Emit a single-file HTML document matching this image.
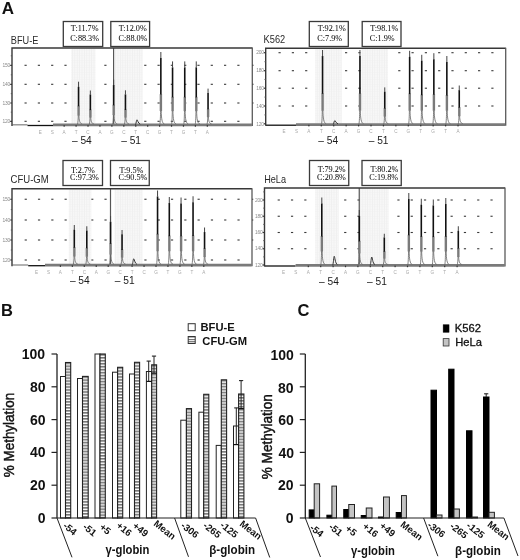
<!DOCTYPE html>
<html><head><meta charset="utf-8"><style>
html,body{margin:0;padding:0;background:#fff;width:520px;height:560px;overflow:hidden}
svg{display:block}
svg{will-change:transform}
</style></head><body>
<svg width="520" height="560" viewBox="0 0 520 560">
<defs>
<pattern id="hatch" patternUnits="userSpaceOnUse" x="0" y="0.3" width="10" height="3.05"><rect width="10" height="3.05" fill="#fff"/><rect y="0" width="10" height="1.25" fill="#555"/></pattern>
<pattern id="shade" patternUnits="userSpaceOnUse" x="0" y="0" width="2.4" height="2.4"><rect width="2.4" height="2.4" fill="#f7f7f7"/><rect width="0.7" height="2.4" fill="#eeeeee"/><rect width="2.4" height="0.5" fill="#f1f1f1"/></pattern>
<pattern id="hatch2" patternUnits="userSpaceOnUse" x="0" y="0.5" width="10" height="2.4"><rect width="10" height="2.4" fill="#fff"/><rect y="0" width="10" height="1" fill="#555"/></pattern>
</defs>
<rect width="520" height="560" fill="#fff"/>
<text id="m_A" x="1.65" y="13.70" font-size="17" font-weight="bold" fill="#111" text-anchor="start" font-family='"Liberation Sans", sans-serif' >A</text>
<rect x="24.50" y="64.75" width="2.20" height="1.10" fill="#3a3a3a" stroke="none" stroke-width="1" />
<rect x="37.80" y="64.75" width="2.20" height="1.10" fill="#3a3a3a" stroke="none" stroke-width="1" />
<rect x="51.10" y="64.75" width="2.20" height="1.10" fill="#3a3a3a" stroke="none" stroke-width="1" />
<rect x="64.40" y="64.75" width="2.20" height="1.10" fill="#3a3a3a" stroke="none" stroke-width="1" />
<rect x="77.70" y="64.75" width="2.20" height="1.10" fill="#3a3a3a" stroke="none" stroke-width="1" />
<rect x="91.00" y="64.75" width="2.20" height="1.10" fill="#3a3a3a" stroke="none" stroke-width="1" />
<rect x="104.30" y="64.75" width="2.20" height="1.10" fill="#3a3a3a" stroke="none" stroke-width="1" />
<rect x="117.60" y="64.75" width="2.20" height="1.10" fill="#3a3a3a" stroke="none" stroke-width="1" />
<rect x="130.90" y="64.75" width="2.20" height="1.10" fill="#3a3a3a" stroke="none" stroke-width="1" />
<rect x="144.20" y="64.75" width="2.20" height="1.10" fill="#3a3a3a" stroke="none" stroke-width="1" />
<rect x="157.50" y="64.75" width="2.20" height="1.10" fill="#3a3a3a" stroke="none" stroke-width="1" />
<rect x="170.80" y="64.75" width="2.20" height="1.10" fill="#3a3a3a" stroke="none" stroke-width="1" />
<rect x="184.10" y="64.75" width="2.20" height="1.10" fill="#3a3a3a" stroke="none" stroke-width="1" />
<rect x="197.40" y="64.75" width="2.20" height="1.10" fill="#3a3a3a" stroke="none" stroke-width="1" />
<rect x="210.70" y="64.75" width="2.20" height="1.10" fill="#3a3a3a" stroke="none" stroke-width="1" />
<rect x="224.00" y="64.75" width="2.20" height="1.10" fill="#3a3a3a" stroke="none" stroke-width="1" />
<rect x="237.30" y="64.75" width="2.20" height="1.10" fill="#3a3a3a" stroke="none" stroke-width="1" />
<rect x="24.50" y="83.75" width="2.20" height="1.10" fill="#3a3a3a" stroke="none" stroke-width="1" />
<rect x="37.80" y="83.75" width="2.20" height="1.10" fill="#3a3a3a" stroke="none" stroke-width="1" />
<rect x="51.10" y="83.75" width="2.20" height="1.10" fill="#3a3a3a" stroke="none" stroke-width="1" />
<rect x="64.40" y="83.75" width="2.20" height="1.10" fill="#3a3a3a" stroke="none" stroke-width="1" />
<rect x="77.70" y="83.75" width="2.20" height="1.10" fill="#3a3a3a" stroke="none" stroke-width="1" />
<rect x="91.00" y="83.75" width="2.20" height="1.10" fill="#3a3a3a" stroke="none" stroke-width="1" />
<rect x="104.30" y="83.75" width="2.20" height="1.10" fill="#3a3a3a" stroke="none" stroke-width="1" />
<rect x="117.60" y="83.75" width="2.20" height="1.10" fill="#3a3a3a" stroke="none" stroke-width="1" />
<rect x="130.90" y="83.75" width="2.20" height="1.10" fill="#3a3a3a" stroke="none" stroke-width="1" />
<rect x="144.20" y="83.75" width="2.20" height="1.10" fill="#3a3a3a" stroke="none" stroke-width="1" />
<rect x="157.50" y="83.75" width="2.20" height="1.10" fill="#3a3a3a" stroke="none" stroke-width="1" />
<rect x="170.80" y="83.75" width="2.20" height="1.10" fill="#3a3a3a" stroke="none" stroke-width="1" />
<rect x="184.10" y="83.75" width="2.20" height="1.10" fill="#3a3a3a" stroke="none" stroke-width="1" />
<rect x="197.40" y="83.75" width="2.20" height="1.10" fill="#3a3a3a" stroke="none" stroke-width="1" />
<rect x="210.70" y="83.75" width="2.20" height="1.10" fill="#3a3a3a" stroke="none" stroke-width="1" />
<rect x="224.00" y="83.75" width="2.20" height="1.10" fill="#3a3a3a" stroke="none" stroke-width="1" />
<rect x="237.30" y="83.75" width="2.20" height="1.10" fill="#3a3a3a" stroke="none" stroke-width="1" />
<rect x="24.50" y="102.45" width="2.20" height="1.10" fill="#3a3a3a" stroke="none" stroke-width="1" />
<rect x="37.80" y="102.45" width="2.20" height="1.10" fill="#3a3a3a" stroke="none" stroke-width="1" />
<rect x="51.10" y="102.45" width="2.20" height="1.10" fill="#3a3a3a" stroke="none" stroke-width="1" />
<rect x="64.40" y="102.45" width="2.20" height="1.10" fill="#3a3a3a" stroke="none" stroke-width="1" />
<rect x="77.70" y="102.45" width="2.20" height="1.10" fill="#3a3a3a" stroke="none" stroke-width="1" />
<rect x="91.00" y="102.45" width="2.20" height="1.10" fill="#3a3a3a" stroke="none" stroke-width="1" />
<rect x="104.30" y="102.45" width="2.20" height="1.10" fill="#3a3a3a" stroke="none" stroke-width="1" />
<rect x="117.60" y="102.45" width="2.20" height="1.10" fill="#3a3a3a" stroke="none" stroke-width="1" />
<rect x="130.90" y="102.45" width="2.20" height="1.10" fill="#3a3a3a" stroke="none" stroke-width="1" />
<rect x="144.20" y="102.45" width="2.20" height="1.10" fill="#3a3a3a" stroke="none" stroke-width="1" />
<rect x="157.50" y="102.45" width="2.20" height="1.10" fill="#3a3a3a" stroke="none" stroke-width="1" />
<rect x="170.80" y="102.45" width="2.20" height="1.10" fill="#3a3a3a" stroke="none" stroke-width="1" />
<rect x="184.10" y="102.45" width="2.20" height="1.10" fill="#3a3a3a" stroke="none" stroke-width="1" />
<rect x="197.40" y="102.45" width="2.20" height="1.10" fill="#3a3a3a" stroke="none" stroke-width="1" />
<rect x="210.70" y="102.45" width="2.20" height="1.10" fill="#3a3a3a" stroke="none" stroke-width="1" />
<rect x="224.00" y="102.45" width="2.20" height="1.10" fill="#3a3a3a" stroke="none" stroke-width="1" />
<rect x="237.30" y="102.45" width="2.20" height="1.10" fill="#3a3a3a" stroke="none" stroke-width="1" />
<rect x="24.50" y="120.75" width="2.20" height="1.10" fill="#3a3a3a" stroke="none" stroke-width="1" />
<rect x="37.80" y="120.75" width="2.20" height="1.10" fill="#3a3a3a" stroke="none" stroke-width="1" />
<rect x="51.10" y="120.75" width="2.20" height="1.10" fill="#3a3a3a" stroke="none" stroke-width="1" />
<rect x="64.40" y="120.75" width="2.20" height="1.10" fill="#3a3a3a" stroke="none" stroke-width="1" />
<rect x="77.70" y="120.75" width="2.20" height="1.10" fill="#3a3a3a" stroke="none" stroke-width="1" />
<rect x="91.00" y="120.75" width="2.20" height="1.10" fill="#3a3a3a" stroke="none" stroke-width="1" />
<rect x="104.30" y="120.75" width="2.20" height="1.10" fill="#3a3a3a" stroke="none" stroke-width="1" />
<rect x="117.60" y="120.75" width="2.20" height="1.10" fill="#3a3a3a" stroke="none" stroke-width="1" />
<rect x="130.90" y="120.75" width="2.20" height="1.10" fill="#3a3a3a" stroke="none" stroke-width="1" />
<rect x="144.20" y="120.75" width="2.20" height="1.10" fill="#3a3a3a" stroke="none" stroke-width="1" />
<rect x="157.50" y="120.75" width="2.20" height="1.10" fill="#3a3a3a" stroke="none" stroke-width="1" />
<rect x="170.80" y="120.75" width="2.20" height="1.10" fill="#3a3a3a" stroke="none" stroke-width="1" />
<rect x="184.10" y="120.75" width="2.20" height="1.10" fill="#3a3a3a" stroke="none" stroke-width="1" />
<rect x="197.40" y="120.75" width="2.20" height="1.10" fill="#3a3a3a" stroke="none" stroke-width="1" />
<rect x="210.70" y="120.75" width="2.20" height="1.10" fill="#3a3a3a" stroke="none" stroke-width="1" />
<rect x="224.00" y="120.75" width="2.20" height="1.10" fill="#3a3a3a" stroke="none" stroke-width="1" />
<rect x="237.30" y="120.75" width="2.20" height="1.10" fill="#3a3a3a" stroke="none" stroke-width="1" />
<rect x="71.20" y="48.70" width="24.30" height="75.00" fill="url(#shade)" stroke="none" stroke-width="1" />
<rect x="115.00" y="48.70" width="27.70" height="75.00" fill="url(#shade)" stroke="none" stroke-width="1" />
<line x1="113.60" y1="48.00" x2="113.60" y2="124.50" stroke="#555" stroke-width="1.2" />
<line x1="12.50" y1="124.80" x2="27.50" y2="124.80" stroke="#888" stroke-width="1.3" />
<line x1="27.50" y1="125.50" x2="53.00" y2="125.50" stroke="#111" stroke-width="1.3" />
<line x1="53.00" y1="124.90" x2="251.80" y2="124.90" stroke="#7a7a7a" stroke-width="2.6" />
<path d="M77.50,124.50 C78.00,122.50 78.20,118.85 78.30,115.08 M78.90,115.08 C79.10,120.73 79.70,123.30 82.10,124.00" fill="none" stroke="#6a6a6a" stroke-width="0.85"/>
<line x1="78.60" y1="115.58" x2="78.60" y2="105.74" stroke="#7a7a7a" stroke-width="2.4" />
<line x1="78.55" y1="106.24" x2="78.55" y2="86.84" stroke="#111" stroke-width="1.6" />
<line x1="78.55" y1="87.14" x2="78.55" y2="81.70" stroke="#444" stroke-width="1.0" />
<path d="M89.30,124.50 C89.80,122.50 90.00,120.01 90.10,117.02 M90.70,117.02 C90.90,121.51 91.50,123.30 93.90,124.00" fill="none" stroke="#6a6a6a" stroke-width="0.85"/>
<line x1="90.40" y1="117.52" x2="90.40" y2="109.59" stroke="#7a7a7a" stroke-width="2.4" />
<line x1="90.35" y1="110.09" x2="90.35" y2="94.58" stroke="#111" stroke-width="1.6" />
<line x1="90.35" y1="94.88" x2="90.35" y2="90.50" stroke="#444" stroke-width="1.0" />
<path d="M112.60,124.50 C113.10,122.50 113.30,118.57 113.40,114.62 M114.00,114.62 C114.20,120.55 114.80,123.30 117.20,124.00" fill="none" stroke="#6a6a6a" stroke-width="0.85"/>
<line x1="113.70" y1="115.12" x2="113.70" y2="104.82" stroke="#7a7a7a" stroke-width="2.4" />
<line x1="113.65" y1="105.32" x2="113.65" y2="84.99" stroke="#111" stroke-width="1.6" />
<line x1="113.65" y1="85.29" x2="113.65" y2="79.60" stroke="#444" stroke-width="1.0" />
<path d="M124.40,124.50 C124.90,122.50 125.10,119.99 125.20,116.98 M125.80,116.98 C126.00,121.49 126.60,123.30 129.00,124.00" fill="none" stroke="#6a6a6a" stroke-width="0.85"/>
<line x1="125.50" y1="117.48" x2="125.50" y2="109.51" stroke="#7a7a7a" stroke-width="2.4" />
<line x1="125.45" y1="110.01" x2="125.45" y2="94.40" stroke="#111" stroke-width="1.6" />
<line x1="125.45" y1="94.70" x2="125.45" y2="90.30" stroke="#444" stroke-width="1.0" />
<path d="M135.40,124.70 C136.20,123.50 136.40,119.80 137.00,119.80 C137.60,119.80 137.80,123.00 140.20,124.20" fill="none" stroke="#333" stroke-width="1.0"/>
<path d="M159.80,124.50 C160.30,122.50 160.50,116.10 160.60,110.50 M161.20,110.50 C161.40,118.90 162.00,123.30 164.40,124.00" fill="none" stroke="#6a6a6a" stroke-width="0.85"/>
<line x1="160.90" y1="111.00" x2="160.90" y2="94.12" stroke="#7a7a7a" stroke-width="2.4" />
<line x1="160.85" y1="94.62" x2="160.85" y2="58.00" stroke="#111" stroke-width="1.6" />
<line x1="160.85" y1="58.30" x2="160.85" y2="52.00" stroke="#444" stroke-width="1.0" />
<path d="M171.50,124.50 C172.00,122.50 172.20,116.17 172.30,110.62 M172.90,110.62 C173.10,118.95 173.70,123.30 176.10,124.00" fill="none" stroke="#6a6a6a" stroke-width="0.85"/>
<line x1="172.60" y1="111.12" x2="172.60" y2="96.84" stroke="#7a7a7a" stroke-width="2.4" />
<line x1="172.55" y1="97.34" x2="172.55" y2="67.40" stroke="#111" stroke-width="1.6" />
<line x1="172.55" y1="67.70" x2="172.55" y2="61.40" stroke="#444" stroke-width="1.0" />
<path d="M183.70,124.50 C184.20,122.50 184.40,116.17 184.50,110.62 M185.10,110.62 C185.30,118.95 185.90,123.30 188.30,124.00" fill="none" stroke="#6a6a6a" stroke-width="0.85"/>
<line x1="184.80" y1="111.12" x2="184.80" y2="96.84" stroke="#7a7a7a" stroke-width="2.4" />
<line x1="184.75" y1="97.34" x2="184.75" y2="67.40" stroke="#111" stroke-width="1.6" />
<line x1="184.75" y1="67.70" x2="184.75" y2="61.40" stroke="#444" stroke-width="1.0" />
<path d="M195.20,124.50 C195.70,122.50 195.90,116.17 196.00,110.62 M196.60,110.62 C196.80,118.95 197.40,123.30 199.80,124.00" fill="none" stroke="#6a6a6a" stroke-width="0.85"/>
<line x1="196.30" y1="111.12" x2="196.30" y2="96.84" stroke="#7a7a7a" stroke-width="2.4" />
<line x1="196.25" y1="97.34" x2="196.25" y2="67.40" stroke="#111" stroke-width="1.6" />
<line x1="196.25" y1="67.70" x2="196.25" y2="61.40" stroke="#444" stroke-width="1.0" />
<path d="M207.00,124.50 C207.50,122.50 207.70,119.76 207.80,116.60 M208.40,116.60 C208.60,121.34 209.20,123.30 211.60,124.00" fill="none" stroke="#6a6a6a" stroke-width="0.85"/>
<line x1="208.10" y1="117.10" x2="208.10" y2="108.76" stroke="#7a7a7a" stroke-width="2.4" />
<line x1="208.05" y1="109.26" x2="208.05" y2="92.91" stroke="#111" stroke-width="1.6" />
<line x1="208.05" y1="93.21" x2="208.05" y2="88.60" stroke="#444" stroke-width="1.0" />
<path d="M12.00,126.10 L12.00,48.00 L252.30,48.00" fill="none" stroke="#383838" stroke-width="1.4"/>
<line x1="252.30" y1="47.40" x2="252.30" y2="126.10" stroke="#5a5a5a" stroke-width="1.3" />
<rect x="63.30" y="21.50" width="39.40" height="25.00" fill="#fff" stroke="#3a3a3a" stroke-width="1.3" />
<text id="m_bfu_b0a" x="70.80" y="31.40" font-size="8.2" font-weight="normal" fill="#111" text-anchor="start" font-family='"Liberation Serif", serif' stroke="#111" stroke-width="0.05">T:11.7%</text>
<text id="m_bfu_b0b" x="70.15" y="41.19" font-size="8.2" font-weight="normal" fill="#111" text-anchor="start" font-family='"Liberation Serif", serif' stroke="#111" stroke-width="0.05">C:88.3%</text>
<rect x="110.80" y="21.50" width="38.80" height="25.00" fill="#fff" stroke="#3a3a3a" stroke-width="1.3" />
<text id="m_bfu_b1a" x="118.75" y="31.40" font-size="8.2" font-weight="normal" fill="#111" text-anchor="start" font-family='"Liberation Serif", serif' stroke="#111" stroke-width="0.05">T:12.0%</text>
<text id="m_bfu_b1b" x="118.56" y="41.19" font-size="8.2" font-weight="normal" fill="#111" text-anchor="start" font-family='"Liberation Serif", serif' stroke="#111" stroke-width="0.05">C:88.0%</text>
<text id="m_bfu_t" x="10.79" y="43.76" font-size="10.6" font-weight="normal" fill="#2a2a2a" text-anchor="start" font-family='"Liberation Sans", sans-serif' textLength="27.60" lengthAdjust="spacingAndGlyphs" >BFU-E</text>
<text x="40.30" y="133.50" font-size="4.6" font-weight="normal" fill="#a8a8a8" text-anchor="middle" font-family='"Liberation Sans", sans-serif' >E</text>
<text x="52.23" y="133.50" font-size="4.6" font-weight="normal" fill="#a8a8a8" text-anchor="middle" font-family='"Liberation Sans", sans-serif' >S</text>
<text x="64.16" y="133.50" font-size="4.6" font-weight="normal" fill="#a8a8a8" text-anchor="middle" font-family='"Liberation Sans", sans-serif' >A</text>
<rect x="63.56" y="125.10" width="1.20" height="1.60" fill="#333" stroke="none" stroke-width="1" />
<text x="76.09" y="133.50" font-size="4.6" font-weight="normal" fill="#a8a8a8" text-anchor="middle" font-family='"Liberation Sans", sans-serif' >T</text>
<rect x="75.49" y="125.10" width="1.20" height="1.60" fill="#333" stroke="none" stroke-width="1" />
<text x="88.02" y="133.50" font-size="4.6" font-weight="normal" fill="#a8a8a8" text-anchor="middle" font-family='"Liberation Sans", sans-serif' >C</text>
<rect x="87.42" y="125.10" width="1.20" height="1.60" fill="#333" stroke="none" stroke-width="1" />
<text x="99.95" y="133.50" font-size="4.6" font-weight="normal" fill="#a8a8a8" text-anchor="middle" font-family='"Liberation Sans", sans-serif' >A</text>
<rect x="99.35" y="125.10" width="1.20" height="1.60" fill="#333" stroke="none" stroke-width="1" />
<text x="111.88" y="133.50" font-size="4.6" font-weight="normal" fill="#a8a8a8" text-anchor="middle" font-family='"Liberation Sans", sans-serif' >G</text>
<rect x="111.28" y="125.10" width="1.20" height="1.60" fill="#333" stroke="none" stroke-width="1" />
<text x="123.81" y="133.50" font-size="4.6" font-weight="normal" fill="#a8a8a8" text-anchor="middle" font-family='"Liberation Sans", sans-serif' >C</text>
<rect x="123.21" y="125.10" width="1.20" height="1.60" fill="#333" stroke="none" stroke-width="1" />
<text x="135.74" y="133.50" font-size="4.6" font-weight="normal" fill="#a8a8a8" text-anchor="middle" font-family='"Liberation Sans", sans-serif' >T</text>
<rect x="135.14" y="125.10" width="1.20" height="1.60" fill="#333" stroke="none" stroke-width="1" />
<text x="147.67" y="133.50" font-size="4.6" font-weight="normal" fill="#a8a8a8" text-anchor="middle" font-family='"Liberation Sans", sans-serif' >C</text>
<rect x="147.07" y="125.10" width="1.20" height="1.60" fill="#333" stroke="none" stroke-width="1" />
<text x="159.60" y="133.50" font-size="4.6" font-weight="normal" fill="#a8a8a8" text-anchor="middle" font-family='"Liberation Sans", sans-serif' >G</text>
<rect x="159.00" y="125.10" width="1.20" height="1.60" fill="#333" stroke="none" stroke-width="1" />
<text x="171.53" y="133.50" font-size="4.6" font-weight="normal" fill="#a8a8a8" text-anchor="middle" font-family='"Liberation Sans", sans-serif' >T</text>
<rect x="170.93" y="125.10" width="1.20" height="1.60" fill="#333" stroke="none" stroke-width="1" />
<text x="183.46" y="133.50" font-size="4.6" font-weight="normal" fill="#a8a8a8" text-anchor="middle" font-family='"Liberation Sans", sans-serif' >G</text>
<rect x="182.86" y="125.10" width="1.20" height="1.60" fill="#333" stroke="none" stroke-width="1" />
<text x="195.39" y="133.50" font-size="4.6" font-weight="normal" fill="#a8a8a8" text-anchor="middle" font-family='"Liberation Sans", sans-serif' >T</text>
<rect x="194.79" y="125.10" width="1.20" height="1.60" fill="#333" stroke="none" stroke-width="1" />
<text x="207.32" y="133.50" font-size="4.6" font-weight="normal" fill="#a8a8a8" text-anchor="middle" font-family='"Liberation Sans", sans-serif' >A</text>
<rect x="206.72" y="125.10" width="1.20" height="1.60" fill="#333" stroke="none" stroke-width="1" />
<text id="m_bfu_l0" x="71.95" y="143.90" font-size="10.2" font-weight="normal" fill="#1a1a1a" text-anchor="start" font-family='"Liberation Sans", sans-serif' >&#8211; 54</text>
<text id="m_bfu_l1" x="121.20" y="143.90" font-size="10.2" font-weight="normal" fill="#1a1a1a" text-anchor="start" font-family='"Liberation Sans", sans-serif' >&#8211; 51</text>
<text x="10.00" y="67.00" font-size="4.9" font-weight="normal" fill="#8a8a8a" text-anchor="end" font-family='"Liberation Sans", sans-serif' letter-spacing="-0.2">150</text>
<line x1="10.20" y1="65.30" x2="12.00" y2="65.30" stroke="#333" stroke-width="1.2" />
<text x="10.00" y="86.00" font-size="4.9" font-weight="normal" fill="#8a8a8a" text-anchor="end" font-family='"Liberation Sans", sans-serif' letter-spacing="-0.2">140</text>
<line x1="10.20" y1="84.30" x2="12.00" y2="84.30" stroke="#333" stroke-width="1.2" />
<text x="10.00" y="104.70" font-size="4.9" font-weight="normal" fill="#8a8a8a" text-anchor="end" font-family='"Liberation Sans", sans-serif' letter-spacing="-0.2">130</text>
<line x1="10.20" y1="103.00" x2="12.00" y2="103.00" stroke="#333" stroke-width="1.2" />
<text x="10.00" y="123.00" font-size="4.9" font-weight="normal" fill="#8a8a8a" text-anchor="end" font-family='"Liberation Sans", sans-serif' letter-spacing="-0.2">120</text>
<line x1="10.20" y1="121.30" x2="12.00" y2="121.30" stroke="#333" stroke-width="1.2" />
<line x1="10.80" y1="74.80" x2="12.00" y2="74.80" stroke="#555" stroke-width="1.0" />
<line x1="10.80" y1="93.65" x2="12.00" y2="93.65" stroke="#555" stroke-width="1.0" />
<line x1="10.80" y1="112.15" x2="12.00" y2="112.15" stroke="#555" stroke-width="1.0" />
<line x1="10.80" y1="55.80" x2="12.00" y2="55.80" stroke="#555" stroke-width="1.0" />
<line x1="252.30" y1="65.30" x2="253.60" y2="65.30" stroke="#444" stroke-width="1.1" />
<line x1="252.30" y1="84.30" x2="253.60" y2="84.30" stroke="#444" stroke-width="1.1" />
<line x1="252.30" y1="103.00" x2="253.60" y2="103.00" stroke="#444" stroke-width="1.1" />
<rect x="278.50" y="52.15" width="2.20" height="1.10" fill="#3a3a3a" stroke="none" stroke-width="1" />
<rect x="291.80" y="52.15" width="2.20" height="1.10" fill="#3a3a3a" stroke="none" stroke-width="1" />
<rect x="305.10" y="52.15" width="2.20" height="1.10" fill="#3a3a3a" stroke="none" stroke-width="1" />
<rect x="318.40" y="52.15" width="2.20" height="1.10" fill="#3a3a3a" stroke="none" stroke-width="1" />
<rect x="331.70" y="52.15" width="2.20" height="1.10" fill="#3a3a3a" stroke="none" stroke-width="1" />
<rect x="345.00" y="52.15" width="2.20" height="1.10" fill="#3a3a3a" stroke="none" stroke-width="1" />
<rect x="358.30" y="52.15" width="2.20" height="1.10" fill="#3a3a3a" stroke="none" stroke-width="1" />
<rect x="371.60" y="52.15" width="2.20" height="1.10" fill="#3a3a3a" stroke="none" stroke-width="1" />
<rect x="384.90" y="52.15" width="2.20" height="1.10" fill="#3a3a3a" stroke="none" stroke-width="1" />
<rect x="398.20" y="52.15" width="2.20" height="1.10" fill="#3a3a3a" stroke="none" stroke-width="1" />
<rect x="411.50" y="52.15" width="2.20" height="1.10" fill="#3a3a3a" stroke="none" stroke-width="1" />
<rect x="424.80" y="52.15" width="2.20" height="1.10" fill="#3a3a3a" stroke="none" stroke-width="1" />
<rect x="438.10" y="52.15" width="2.20" height="1.10" fill="#3a3a3a" stroke="none" stroke-width="1" />
<rect x="451.40" y="52.15" width="2.20" height="1.10" fill="#3a3a3a" stroke="none" stroke-width="1" />
<rect x="464.70" y="52.15" width="2.20" height="1.10" fill="#3a3a3a" stroke="none" stroke-width="1" />
<rect x="478.00" y="52.15" width="2.20" height="1.10" fill="#3a3a3a" stroke="none" stroke-width="1" />
<rect x="491.30" y="52.15" width="2.20" height="1.10" fill="#3a3a3a" stroke="none" stroke-width="1" />
<rect x="278.50" y="70.15" width="2.20" height="1.10" fill="#3a3a3a" stroke="none" stroke-width="1" />
<rect x="291.80" y="70.15" width="2.20" height="1.10" fill="#3a3a3a" stroke="none" stroke-width="1" />
<rect x="305.10" y="70.15" width="2.20" height="1.10" fill="#3a3a3a" stroke="none" stroke-width="1" />
<rect x="318.40" y="70.15" width="2.20" height="1.10" fill="#3a3a3a" stroke="none" stroke-width="1" />
<rect x="331.70" y="70.15" width="2.20" height="1.10" fill="#3a3a3a" stroke="none" stroke-width="1" />
<rect x="345.00" y="70.15" width="2.20" height="1.10" fill="#3a3a3a" stroke="none" stroke-width="1" />
<rect x="358.30" y="70.15" width="2.20" height="1.10" fill="#3a3a3a" stroke="none" stroke-width="1" />
<rect x="371.60" y="70.15" width="2.20" height="1.10" fill="#3a3a3a" stroke="none" stroke-width="1" />
<rect x="384.90" y="70.15" width="2.20" height="1.10" fill="#3a3a3a" stroke="none" stroke-width="1" />
<rect x="398.20" y="70.15" width="2.20" height="1.10" fill="#3a3a3a" stroke="none" stroke-width="1" />
<rect x="411.50" y="70.15" width="2.20" height="1.10" fill="#3a3a3a" stroke="none" stroke-width="1" />
<rect x="424.80" y="70.15" width="2.20" height="1.10" fill="#3a3a3a" stroke="none" stroke-width="1" />
<rect x="438.10" y="70.15" width="2.20" height="1.10" fill="#3a3a3a" stroke="none" stroke-width="1" />
<rect x="451.40" y="70.15" width="2.20" height="1.10" fill="#3a3a3a" stroke="none" stroke-width="1" />
<rect x="464.70" y="70.15" width="2.20" height="1.10" fill="#3a3a3a" stroke="none" stroke-width="1" />
<rect x="478.00" y="70.15" width="2.20" height="1.10" fill="#3a3a3a" stroke="none" stroke-width="1" />
<rect x="491.30" y="70.15" width="2.20" height="1.10" fill="#3a3a3a" stroke="none" stroke-width="1" />
<rect x="278.50" y="87.65" width="2.20" height="1.10" fill="#3a3a3a" stroke="none" stroke-width="1" />
<rect x="291.80" y="87.65" width="2.20" height="1.10" fill="#3a3a3a" stroke="none" stroke-width="1" />
<rect x="305.10" y="87.65" width="2.20" height="1.10" fill="#3a3a3a" stroke="none" stroke-width="1" />
<rect x="318.40" y="87.65" width="2.20" height="1.10" fill="#3a3a3a" stroke="none" stroke-width="1" />
<rect x="331.70" y="87.65" width="2.20" height="1.10" fill="#3a3a3a" stroke="none" stroke-width="1" />
<rect x="345.00" y="87.65" width="2.20" height="1.10" fill="#3a3a3a" stroke="none" stroke-width="1" />
<rect x="358.30" y="87.65" width="2.20" height="1.10" fill="#3a3a3a" stroke="none" stroke-width="1" />
<rect x="371.60" y="87.65" width="2.20" height="1.10" fill="#3a3a3a" stroke="none" stroke-width="1" />
<rect x="384.90" y="87.65" width="2.20" height="1.10" fill="#3a3a3a" stroke="none" stroke-width="1" />
<rect x="398.20" y="87.65" width="2.20" height="1.10" fill="#3a3a3a" stroke="none" stroke-width="1" />
<rect x="411.50" y="87.65" width="2.20" height="1.10" fill="#3a3a3a" stroke="none" stroke-width="1" />
<rect x="424.80" y="87.65" width="2.20" height="1.10" fill="#3a3a3a" stroke="none" stroke-width="1" />
<rect x="438.10" y="87.65" width="2.20" height="1.10" fill="#3a3a3a" stroke="none" stroke-width="1" />
<rect x="451.40" y="87.65" width="2.20" height="1.10" fill="#3a3a3a" stroke="none" stroke-width="1" />
<rect x="464.70" y="87.65" width="2.20" height="1.10" fill="#3a3a3a" stroke="none" stroke-width="1" />
<rect x="478.00" y="87.65" width="2.20" height="1.10" fill="#3a3a3a" stroke="none" stroke-width="1" />
<rect x="491.30" y="87.65" width="2.20" height="1.10" fill="#3a3a3a" stroke="none" stroke-width="1" />
<rect x="278.50" y="105.45" width="2.20" height="1.10" fill="#3a3a3a" stroke="none" stroke-width="1" />
<rect x="291.80" y="105.45" width="2.20" height="1.10" fill="#3a3a3a" stroke="none" stroke-width="1" />
<rect x="305.10" y="105.45" width="2.20" height="1.10" fill="#3a3a3a" stroke="none" stroke-width="1" />
<rect x="318.40" y="105.45" width="2.20" height="1.10" fill="#3a3a3a" stroke="none" stroke-width="1" />
<rect x="331.70" y="105.45" width="2.20" height="1.10" fill="#3a3a3a" stroke="none" stroke-width="1" />
<rect x="345.00" y="105.45" width="2.20" height="1.10" fill="#3a3a3a" stroke="none" stroke-width="1" />
<rect x="358.30" y="105.45" width="2.20" height="1.10" fill="#3a3a3a" stroke="none" stroke-width="1" />
<rect x="371.60" y="105.45" width="2.20" height="1.10" fill="#3a3a3a" stroke="none" stroke-width="1" />
<rect x="384.90" y="105.45" width="2.20" height="1.10" fill="#3a3a3a" stroke="none" stroke-width="1" />
<rect x="398.20" y="105.45" width="2.20" height="1.10" fill="#3a3a3a" stroke="none" stroke-width="1" />
<rect x="411.50" y="105.45" width="2.20" height="1.10" fill="#3a3a3a" stroke="none" stroke-width="1" />
<rect x="424.80" y="105.45" width="2.20" height="1.10" fill="#3a3a3a" stroke="none" stroke-width="1" />
<rect x="438.10" y="105.45" width="2.20" height="1.10" fill="#3a3a3a" stroke="none" stroke-width="1" />
<rect x="451.40" y="105.45" width="2.20" height="1.10" fill="#3a3a3a" stroke="none" stroke-width="1" />
<rect x="464.70" y="105.45" width="2.20" height="1.10" fill="#3a3a3a" stroke="none" stroke-width="1" />
<rect x="478.00" y="105.45" width="2.20" height="1.10" fill="#3a3a3a" stroke="none" stroke-width="1" />
<rect x="491.30" y="105.45" width="2.20" height="1.10" fill="#3a3a3a" stroke="none" stroke-width="1" />
<rect x="315.00" y="49.00" width="26.80" height="74.40" fill="url(#shade)" stroke="none" stroke-width="1" />
<rect x="361.50" y="49.00" width="26.50" height="74.40" fill="url(#shade)" stroke="none" stroke-width="1" />
<line x1="265.70" y1="125.20" x2="296.00" y2="125.20" stroke="#111" stroke-width="1.3" />
<line x1="296.00" y1="124.60" x2="505.20" y2="124.60" stroke="#7a7a7a" stroke-width="2.6" />
<path d="M321.50,124.20 C322.00,122.20 322.20,115.80 322.30,110.20 M322.90,110.20 C323.10,118.60 323.70,123.00 326.10,123.70" fill="none" stroke="#6a6a6a" stroke-width="0.85"/>
<line x1="322.60" y1="110.70" x2="322.60" y2="93.34" stroke="#7a7a7a" stroke-width="2.4" />
<line x1="322.55" y1="93.84" x2="322.55" y2="56.00" stroke="#111" stroke-width="1.6" />
<line x1="322.55" y1="56.30" x2="322.55" y2="50.00" stroke="#444" stroke-width="1.0" />
<path d="M333.20,124.40 C334.00,123.20 334.20,120.60 334.80,120.60 C335.40,120.60 335.60,122.70 338.00,123.90" fill="none" stroke="#333" stroke-width="1.0"/>
<path d="M358.90,124.20 C359.40,122.20 359.60,115.80 359.70,110.20 M360.30,110.20 C360.50,118.60 361.10,123.00 363.50,123.70" fill="none" stroke="#6a6a6a" stroke-width="0.85"/>
<line x1="360.00" y1="110.70" x2="360.00" y2="93.34" stroke="#7a7a7a" stroke-width="2.4" />
<line x1="359.95" y1="93.84" x2="359.95" y2="56.00" stroke="#111" stroke-width="1.6" />
<line x1="359.95" y1="56.30" x2="359.95" y2="50.00" stroke="#444" stroke-width="1.0" />
<path d="M383.70,124.20 C384.20,122.20 384.40,119.34 384.50,116.10 M385.10,116.10 C385.30,120.96 385.90,123.00 388.30,123.70" fill="none" stroke="#6a6a6a" stroke-width="0.85"/>
<line x1="384.80" y1="116.60" x2="384.80" y2="108.07" stroke="#7a7a7a" stroke-width="2.4" />
<line x1="384.75" y1="108.57" x2="384.75" y2="91.82" stroke="#111" stroke-width="1.6" />
<line x1="384.75" y1="92.12" x2="384.75" y2="87.40" stroke="#444" stroke-width="1.0" />
<path d="M408.60,124.20 C409.10,122.20 409.30,115.80 409.40,110.20 M410.00,110.20 C410.20,118.60 410.80,123.00 413.20,123.70" fill="none" stroke="#6a6a6a" stroke-width="0.85"/>
<line x1="409.70" y1="110.70" x2="409.70" y2="93.57" stroke="#7a7a7a" stroke-width="2.4" />
<line x1="409.65" y1="94.07" x2="409.65" y2="56.80" stroke="#111" stroke-width="1.6" />
<line x1="409.65" y1="57.10" x2="409.65" y2="50.80" stroke="#444" stroke-width="1.0" />
<path d="M420.70,124.20 C421.20,122.20 421.40,115.80 421.50,110.20 M422.10,110.20 C422.30,118.60 422.90,123.00 425.30,123.70" fill="none" stroke="#6a6a6a" stroke-width="0.85"/>
<line x1="421.80" y1="110.70" x2="421.80" y2="94.69" stroke="#7a7a7a" stroke-width="2.4" />
<line x1="421.75" y1="95.19" x2="421.75" y2="60.80" stroke="#111" stroke-width="1.6" />
<line x1="421.75" y1="61.10" x2="421.75" y2="54.80" stroke="#444" stroke-width="1.0" />
<path d="M432.80,124.20 C433.30,122.20 433.50,115.80 433.60,110.20 M434.20,110.20 C434.40,118.60 435.00,123.00 437.40,123.70" fill="none" stroke="#6a6a6a" stroke-width="0.85"/>
<line x1="433.90" y1="110.70" x2="433.90" y2="94.24" stroke="#7a7a7a" stroke-width="2.4" />
<line x1="433.85" y1="94.74" x2="433.85" y2="59.20" stroke="#111" stroke-width="1.6" />
<line x1="433.85" y1="59.50" x2="433.85" y2="53.20" stroke="#444" stroke-width="1.0" />
<path d="M445.80,124.20 C446.30,122.20 446.50,115.80 446.60,110.20 M447.20,110.20 C447.40,118.60 448.00,123.00 450.40,123.70" fill="none" stroke="#6a6a6a" stroke-width="0.85"/>
<line x1="446.90" y1="110.70" x2="446.90" y2="95.02" stroke="#7a7a7a" stroke-width="2.4" />
<line x1="446.85" y1="95.52" x2="446.85" y2="62.00" stroke="#111" stroke-width="1.6" />
<line x1="446.85" y1="62.30" x2="446.85" y2="56.00" stroke="#444" stroke-width="1.0" />
<path d="M458.20,124.20 C458.70,122.20 458.90,119.09 459.00,115.69 M459.60,115.69 C459.80,120.79 460.40,123.00 462.80,123.70" fill="none" stroke="#6a6a6a" stroke-width="0.85"/>
<line x1="459.30" y1="116.19" x2="459.30" y2="107.23" stroke="#7a7a7a" stroke-width="2.4" />
<line x1="459.25" y1="107.73" x2="459.25" y2="90.14" stroke="#111" stroke-width="1.6" />
<line x1="459.25" y1="90.44" x2="459.25" y2="85.50" stroke="#444" stroke-width="1.0" />
<path d="M265.70,125.80 L265.70,48.30 L505.70,48.30" fill="none" stroke="#383838" stroke-width="1.4"/>
<line x1="505.70" y1="47.70" x2="505.70" y2="125.80" stroke="#5a5a5a" stroke-width="1.3" />
<rect x="309.30" y="21.50" width="39.00" height="25.00" fill="#fff" stroke="#3a3a3a" stroke-width="1.3" />
<text id="m_k562_b0a" x="317.69" y="31.40" font-size="8.2" font-weight="normal" fill="#111" text-anchor="start" font-family='"Liberation Serif", serif' stroke="#111" stroke-width="0.05">T:92.1%</text>
<text id="m_k562_b0b" x="317.30" y="41.19" font-size="8.2" font-weight="normal" fill="#111" text-anchor="start" font-family='"Liberation Serif", serif' stroke="#111" stroke-width="0.05">C:7.9%</text>
<rect x="362.20" y="21.50" width="38.80" height="25.00" fill="#fff" stroke="#3a3a3a" stroke-width="1.3" />
<text id="m_k562_b1a" x="370.19" y="31.40" font-size="8.2" font-weight="normal" fill="#111" text-anchor="start" font-family='"Liberation Serif", serif' stroke="#111" stroke-width="0.05">T:98.1%</text>
<text id="m_k562_b1b" x="369.84" y="41.19" font-size="8.2" font-weight="normal" fill="#111" text-anchor="start" font-family='"Liberation Serif", serif' stroke="#111" stroke-width="0.05">C:1.9%</text>
<text id="m_k562_t" x="263.60" y="43.10" font-size="10.6" font-weight="normal" fill="#2a2a2a" text-anchor="start" font-family='"Liberation Sans", sans-serif' textLength="21.60" lengthAdjust="spacingAndGlyphs" >K562</text>
<text x="284.00" y="133.20" font-size="4.6" font-weight="normal" fill="#a8a8a8" text-anchor="middle" font-family='"Liberation Sans", sans-serif' >E</text>
<text x="296.43" y="133.20" font-size="4.6" font-weight="normal" fill="#a8a8a8" text-anchor="middle" font-family='"Liberation Sans", sans-serif' >S</text>
<text x="308.86" y="133.20" font-size="4.6" font-weight="normal" fill="#a8a8a8" text-anchor="middle" font-family='"Liberation Sans", sans-serif' >A</text>
<rect x="308.26" y="124.80" width="1.20" height="1.60" fill="#333" stroke="none" stroke-width="1" />
<text x="321.29" y="133.20" font-size="4.6" font-weight="normal" fill="#a8a8a8" text-anchor="middle" font-family='"Liberation Sans", sans-serif' >T</text>
<rect x="320.69" y="124.80" width="1.20" height="1.60" fill="#333" stroke="none" stroke-width="1" />
<text x="333.72" y="133.20" font-size="4.6" font-weight="normal" fill="#a8a8a8" text-anchor="middle" font-family='"Liberation Sans", sans-serif' >C</text>
<rect x="333.12" y="124.80" width="1.20" height="1.60" fill="#333" stroke="none" stroke-width="1" />
<text x="346.15" y="133.20" font-size="4.6" font-weight="normal" fill="#a8a8a8" text-anchor="middle" font-family='"Liberation Sans", sans-serif' >A</text>
<rect x="345.55" y="124.80" width="1.20" height="1.60" fill="#333" stroke="none" stroke-width="1" />
<text x="358.58" y="133.20" font-size="4.6" font-weight="normal" fill="#a8a8a8" text-anchor="middle" font-family='"Liberation Sans", sans-serif' >G</text>
<rect x="357.98" y="124.80" width="1.20" height="1.60" fill="#333" stroke="none" stroke-width="1" />
<text x="371.01" y="133.20" font-size="4.6" font-weight="normal" fill="#a8a8a8" text-anchor="middle" font-family='"Liberation Sans", sans-serif' >C</text>
<rect x="370.41" y="124.80" width="1.20" height="1.60" fill="#333" stroke="none" stroke-width="1" />
<text x="383.44" y="133.20" font-size="4.6" font-weight="normal" fill="#a8a8a8" text-anchor="middle" font-family='"Liberation Sans", sans-serif' >T</text>
<rect x="382.84" y="124.80" width="1.20" height="1.60" fill="#333" stroke="none" stroke-width="1" />
<text x="395.87" y="133.20" font-size="4.6" font-weight="normal" fill="#a8a8a8" text-anchor="middle" font-family='"Liberation Sans", sans-serif' >C</text>
<rect x="395.27" y="124.80" width="1.20" height="1.60" fill="#333" stroke="none" stroke-width="1" />
<text x="408.30" y="133.20" font-size="4.6" font-weight="normal" fill="#a8a8a8" text-anchor="middle" font-family='"Liberation Sans", sans-serif' >G</text>
<rect x="407.70" y="124.80" width="1.20" height="1.60" fill="#333" stroke="none" stroke-width="1" />
<text x="420.73" y="133.20" font-size="4.6" font-weight="normal" fill="#a8a8a8" text-anchor="middle" font-family='"Liberation Sans", sans-serif' >T</text>
<rect x="420.13" y="124.80" width="1.20" height="1.60" fill="#333" stroke="none" stroke-width="1" />
<text x="433.16" y="133.20" font-size="4.6" font-weight="normal" fill="#a8a8a8" text-anchor="middle" font-family='"Liberation Sans", sans-serif' >G</text>
<rect x="432.56" y="124.80" width="1.20" height="1.60" fill="#333" stroke="none" stroke-width="1" />
<text x="445.59" y="133.20" font-size="4.6" font-weight="normal" fill="#a8a8a8" text-anchor="middle" font-family='"Liberation Sans", sans-serif' >T</text>
<rect x="444.99" y="124.80" width="1.20" height="1.60" fill="#333" stroke="none" stroke-width="1" />
<text x="458.02" y="133.20" font-size="4.6" font-weight="normal" fill="#a8a8a8" text-anchor="middle" font-family='"Liberation Sans", sans-serif' >A</text>
<rect x="457.42" y="124.80" width="1.20" height="1.60" fill="#333" stroke="none" stroke-width="1" />
<text id="m_k562_l0" x="318.29" y="143.90" font-size="10.2" font-weight="normal" fill="#1a1a1a" text-anchor="start" font-family='"Liberation Sans", sans-serif' >&#8211; 54</text>
<text id="m_k562_l1" x="368.70" y="143.90" font-size="10.2" font-weight="normal" fill="#1a1a1a" text-anchor="start" font-family='"Liberation Sans", sans-serif' >&#8211; 51</text>
<text x="263.70" y="54.40" font-size="4.9" font-weight="normal" fill="#8a8a8a" text-anchor="end" font-family='"Liberation Sans", sans-serif' letter-spacing="-0.2">200</text>
<line x1="263.90" y1="52.70" x2="265.70" y2="52.70" stroke="#333" stroke-width="1.2" />
<text x="263.70" y="72.40" font-size="4.9" font-weight="normal" fill="#8a8a8a" text-anchor="end" font-family='"Liberation Sans", sans-serif' letter-spacing="-0.2">180</text>
<line x1="263.90" y1="70.70" x2="265.70" y2="70.70" stroke="#333" stroke-width="1.2" />
<text x="263.70" y="89.90" font-size="4.9" font-weight="normal" fill="#8a8a8a" text-anchor="end" font-family='"Liberation Sans", sans-serif' letter-spacing="-0.2">160</text>
<line x1="263.90" y1="88.20" x2="265.70" y2="88.20" stroke="#333" stroke-width="1.2" />
<text x="263.70" y="107.70" font-size="4.9" font-weight="normal" fill="#8a8a8a" text-anchor="end" font-family='"Liberation Sans", sans-serif' letter-spacing="-0.2">140</text>
<line x1="263.90" y1="106.00" x2="265.70" y2="106.00" stroke="#333" stroke-width="1.2" />
<text x="263.70" y="125.50" font-size="4.9" font-weight="normal" fill="#8a8a8a" text-anchor="end" font-family='"Liberation Sans", sans-serif' letter-spacing="-0.2">120</text>
<line x1="263.90" y1="123.80" x2="265.70" y2="123.80" stroke="#333" stroke-width="1.2" />
<line x1="264.50" y1="61.70" x2="265.70" y2="61.70" stroke="#555" stroke-width="1.0" />
<line x1="264.50" y1="79.45" x2="265.70" y2="79.45" stroke="#555" stroke-width="1.0" />
<line x1="264.50" y1="97.10" x2="265.70" y2="97.10" stroke="#555" stroke-width="1.0" />
<line x1="264.50" y1="114.90" x2="265.70" y2="114.90" stroke="#555" stroke-width="1.0" />
<rect x="24.65" y="198.70" width="2.20" height="1.10" fill="#3a3a3a" stroke="none" stroke-width="1" />
<rect x="37.95" y="198.70" width="2.20" height="1.10" fill="#3a3a3a" stroke="none" stroke-width="1" />
<rect x="51.25" y="198.70" width="2.20" height="1.10" fill="#3a3a3a" stroke="none" stroke-width="1" />
<rect x="64.55" y="198.70" width="2.20" height="1.10" fill="#3a3a3a" stroke="none" stroke-width="1" />
<rect x="77.85" y="198.70" width="2.20" height="1.10" fill="#3a3a3a" stroke="none" stroke-width="1" />
<rect x="91.15" y="198.70" width="2.20" height="1.10" fill="#3a3a3a" stroke="none" stroke-width="1" />
<rect x="104.45" y="198.70" width="2.20" height="1.10" fill="#3a3a3a" stroke="none" stroke-width="1" />
<rect x="117.75" y="198.70" width="2.20" height="1.10" fill="#3a3a3a" stroke="none" stroke-width="1" />
<rect x="131.05" y="198.70" width="2.20" height="1.10" fill="#3a3a3a" stroke="none" stroke-width="1" />
<rect x="144.35" y="198.70" width="2.20" height="1.10" fill="#3a3a3a" stroke="none" stroke-width="1" />
<rect x="157.65" y="198.70" width="2.20" height="1.10" fill="#3a3a3a" stroke="none" stroke-width="1" />
<rect x="170.95" y="198.70" width="2.20" height="1.10" fill="#3a3a3a" stroke="none" stroke-width="1" />
<rect x="184.25" y="198.70" width="2.20" height="1.10" fill="#3a3a3a" stroke="none" stroke-width="1" />
<rect x="197.55" y="198.70" width="2.20" height="1.10" fill="#3a3a3a" stroke="none" stroke-width="1" />
<rect x="210.85" y="198.70" width="2.20" height="1.10" fill="#3a3a3a" stroke="none" stroke-width="1" />
<rect x="224.15" y="198.70" width="2.20" height="1.10" fill="#3a3a3a" stroke="none" stroke-width="1" />
<rect x="237.45" y="198.70" width="2.20" height="1.10" fill="#3a3a3a" stroke="none" stroke-width="1" />
<rect x="24.65" y="219.45" width="2.20" height="1.10" fill="#3a3a3a" stroke="none" stroke-width="1" />
<rect x="37.95" y="219.45" width="2.20" height="1.10" fill="#3a3a3a" stroke="none" stroke-width="1" />
<rect x="51.25" y="219.45" width="2.20" height="1.10" fill="#3a3a3a" stroke="none" stroke-width="1" />
<rect x="64.55" y="219.45" width="2.20" height="1.10" fill="#3a3a3a" stroke="none" stroke-width="1" />
<rect x="77.85" y="219.45" width="2.20" height="1.10" fill="#3a3a3a" stroke="none" stroke-width="1" />
<rect x="91.15" y="219.45" width="2.20" height="1.10" fill="#3a3a3a" stroke="none" stroke-width="1" />
<rect x="104.45" y="219.45" width="2.20" height="1.10" fill="#3a3a3a" stroke="none" stroke-width="1" />
<rect x="117.75" y="219.45" width="2.20" height="1.10" fill="#3a3a3a" stroke="none" stroke-width="1" />
<rect x="131.05" y="219.45" width="2.20" height="1.10" fill="#3a3a3a" stroke="none" stroke-width="1" />
<rect x="144.35" y="219.45" width="2.20" height="1.10" fill="#3a3a3a" stroke="none" stroke-width="1" />
<rect x="157.65" y="219.45" width="2.20" height="1.10" fill="#3a3a3a" stroke="none" stroke-width="1" />
<rect x="170.95" y="219.45" width="2.20" height="1.10" fill="#3a3a3a" stroke="none" stroke-width="1" />
<rect x="184.25" y="219.45" width="2.20" height="1.10" fill="#3a3a3a" stroke="none" stroke-width="1" />
<rect x="197.55" y="219.45" width="2.20" height="1.10" fill="#3a3a3a" stroke="none" stroke-width="1" />
<rect x="210.85" y="219.45" width="2.20" height="1.10" fill="#3a3a3a" stroke="none" stroke-width="1" />
<rect x="224.15" y="219.45" width="2.20" height="1.10" fill="#3a3a3a" stroke="none" stroke-width="1" />
<rect x="237.45" y="219.45" width="2.20" height="1.10" fill="#3a3a3a" stroke="none" stroke-width="1" />
<rect x="24.65" y="239.45" width="2.20" height="1.10" fill="#3a3a3a" stroke="none" stroke-width="1" />
<rect x="37.95" y="239.45" width="2.20" height="1.10" fill="#3a3a3a" stroke="none" stroke-width="1" />
<rect x="51.25" y="239.45" width="2.20" height="1.10" fill="#3a3a3a" stroke="none" stroke-width="1" />
<rect x="64.55" y="239.45" width="2.20" height="1.10" fill="#3a3a3a" stroke="none" stroke-width="1" />
<rect x="77.85" y="239.45" width="2.20" height="1.10" fill="#3a3a3a" stroke="none" stroke-width="1" />
<rect x="91.15" y="239.45" width="2.20" height="1.10" fill="#3a3a3a" stroke="none" stroke-width="1" />
<rect x="104.45" y="239.45" width="2.20" height="1.10" fill="#3a3a3a" stroke="none" stroke-width="1" />
<rect x="117.75" y="239.45" width="2.20" height="1.10" fill="#3a3a3a" stroke="none" stroke-width="1" />
<rect x="131.05" y="239.45" width="2.20" height="1.10" fill="#3a3a3a" stroke="none" stroke-width="1" />
<rect x="144.35" y="239.45" width="2.20" height="1.10" fill="#3a3a3a" stroke="none" stroke-width="1" />
<rect x="157.65" y="239.45" width="2.20" height="1.10" fill="#3a3a3a" stroke="none" stroke-width="1" />
<rect x="170.95" y="239.45" width="2.20" height="1.10" fill="#3a3a3a" stroke="none" stroke-width="1" />
<rect x="184.25" y="239.45" width="2.20" height="1.10" fill="#3a3a3a" stroke="none" stroke-width="1" />
<rect x="197.55" y="239.45" width="2.20" height="1.10" fill="#3a3a3a" stroke="none" stroke-width="1" />
<rect x="210.85" y="239.45" width="2.20" height="1.10" fill="#3a3a3a" stroke="none" stroke-width="1" />
<rect x="224.15" y="239.45" width="2.20" height="1.10" fill="#3a3a3a" stroke="none" stroke-width="1" />
<rect x="237.45" y="239.45" width="2.20" height="1.10" fill="#3a3a3a" stroke="none" stroke-width="1" />
<rect x="24.65" y="259.45" width="2.20" height="1.10" fill="#3a3a3a" stroke="none" stroke-width="1" />
<rect x="37.95" y="259.45" width="2.20" height="1.10" fill="#3a3a3a" stroke="none" stroke-width="1" />
<rect x="51.25" y="259.45" width="2.20" height="1.10" fill="#3a3a3a" stroke="none" stroke-width="1" />
<rect x="64.55" y="259.45" width="2.20" height="1.10" fill="#3a3a3a" stroke="none" stroke-width="1" />
<rect x="77.85" y="259.45" width="2.20" height="1.10" fill="#3a3a3a" stroke="none" stroke-width="1" />
<rect x="91.15" y="259.45" width="2.20" height="1.10" fill="#3a3a3a" stroke="none" stroke-width="1" />
<rect x="104.45" y="259.45" width="2.20" height="1.10" fill="#3a3a3a" stroke="none" stroke-width="1" />
<rect x="117.75" y="259.45" width="2.20" height="1.10" fill="#3a3a3a" stroke="none" stroke-width="1" />
<rect x="131.05" y="259.45" width="2.20" height="1.10" fill="#3a3a3a" stroke="none" stroke-width="1" />
<rect x="144.35" y="259.45" width="2.20" height="1.10" fill="#3a3a3a" stroke="none" stroke-width="1" />
<rect x="157.65" y="259.45" width="2.20" height="1.10" fill="#3a3a3a" stroke="none" stroke-width="1" />
<rect x="170.95" y="259.45" width="2.20" height="1.10" fill="#3a3a3a" stroke="none" stroke-width="1" />
<rect x="184.25" y="259.45" width="2.20" height="1.10" fill="#3a3a3a" stroke="none" stroke-width="1" />
<rect x="197.55" y="259.45" width="2.20" height="1.10" fill="#3a3a3a" stroke="none" stroke-width="1" />
<rect x="210.85" y="259.45" width="2.20" height="1.10" fill="#3a3a3a" stroke="none" stroke-width="1" />
<rect x="224.15" y="259.45" width="2.20" height="1.10" fill="#3a3a3a" stroke="none" stroke-width="1" />
<rect x="237.45" y="259.45" width="2.20" height="1.10" fill="#3a3a3a" stroke="none" stroke-width="1" />
<rect x="68.75" y="189.45" width="22.50" height="74.45" fill="url(#shade)" stroke="none" stroke-width="1" />
<rect x="114.50" y="189.45" width="28.00" height="74.45" fill="url(#shade)" stroke="none" stroke-width="1" />
<line x1="110.50" y1="188.75" x2="110.50" y2="264.70" stroke="#555" stroke-width="1.2" />
<line x1="12.50" y1="265.00" x2="28.20" y2="265.00" stroke="#888" stroke-width="1.3" />
<line x1="28.20" y1="265.70" x2="45.00" y2="265.70" stroke="#111" stroke-width="1.3" />
<line x1="45.00" y1="265.10" x2="251.50" y2="265.10" stroke="#7a7a7a" stroke-width="2.6" />
<path d="M73.25,264.70 C73.75,262.70 73.95,259.46 74.05,255.97 M74.65,255.97 C74.85,261.21 75.45,263.50 77.85,264.20" fill="none" stroke="#6a6a6a" stroke-width="0.85"/>
<line x1="74.35" y1="256.47" x2="74.35" y2="247.30" stroke="#7a7a7a" stroke-width="2.4" />
<line x1="74.30" y1="247.80" x2="74.30" y2="229.76" stroke="#111" stroke-width="1.6" />
<line x1="74.30" y1="230.06" x2="74.30" y2="225.00" stroke="#444" stroke-width="1.0" />
<path d="M85.75,264.70 C86.25,262.70 86.45,259.62 86.55,256.24 M87.15,256.24 C87.35,261.32 87.95,263.50 90.35,264.20" fill="none" stroke="#6a6a6a" stroke-width="0.85"/>
<line x1="86.85" y1="256.74" x2="86.85" y2="247.84" stroke="#7a7a7a" stroke-width="2.4" />
<line x1="86.80" y1="248.34" x2="86.80" y2="230.86" stroke="#111" stroke-width="1.6" />
<line x1="86.80" y1="231.16" x2="86.80" y2="226.25" stroke="#444" stroke-width="1.0" />
<path d="M109.50,264.70 C110.00,262.70 110.20,258.27 110.30,253.99 M110.90,253.99 C111.10,260.41 111.70,263.50 114.10,264.20" fill="none" stroke="#6a6a6a" stroke-width="0.85"/>
<line x1="110.60" y1="254.49" x2="110.60" y2="243.35" stroke="#7a7a7a" stroke-width="2.4" />
<line x1="110.55" y1="243.85" x2="110.55" y2="221.84" stroke="#111" stroke-width="1.6" />
<line x1="110.55" y1="222.14" x2="110.55" y2="216.00" stroke="#444" stroke-width="1.0" />
<path d="M121.00,264.70 C121.50,262.70 121.70,260.12 121.80,257.07 M122.40,257.07 C122.60,261.65 123.20,263.50 125.60,264.20" fill="none" stroke="#6a6a6a" stroke-width="0.85"/>
<line x1="122.10" y1="257.57" x2="122.10" y2="249.49" stroke="#7a7a7a" stroke-width="2.4" />
<line x1="122.05" y1="249.99" x2="122.05" y2="234.16" stroke="#111" stroke-width="1.6" />
<line x1="122.05" y1="234.46" x2="122.05" y2="230.00" stroke="#444" stroke-width="1.0" />
<path d="M132.15,264.90 C132.95,263.70 133.15,258.75 133.75,258.75 C134.35,258.75 134.55,263.20 136.95,264.40" fill="none" stroke="#333" stroke-width="1.0"/>
<path d="M156.50,264.70 C157.00,262.70 157.20,256.30 157.30,250.70 M157.90,250.70 C158.10,259.10 158.70,263.50 161.10,264.20" fill="none" stroke="#6a6a6a" stroke-width="0.85"/>
<line x1="157.60" y1="251.20" x2="157.60" y2="233.84" stroke="#7a7a7a" stroke-width="2.4" />
<line x1="157.55" y1="234.34" x2="157.55" y2="196.50" stroke="#111" stroke-width="1.6" />
<line x1="157.55" y1="196.80" x2="157.55" y2="190.50" stroke="#444" stroke-width="1.0" />
<path d="M168.25,264.70 C168.75,262.70 168.95,256.30 169.05,250.70 M169.65,250.70 C169.85,259.10 170.45,263.50 172.85,264.20" fill="none" stroke="#6a6a6a" stroke-width="0.85"/>
<line x1="169.35" y1="251.20" x2="169.35" y2="235.66" stroke="#7a7a7a" stroke-width="2.4" />
<line x1="169.30" y1="236.16" x2="169.30" y2="203.00" stroke="#111" stroke-width="1.6" />
<line x1="169.30" y1="203.30" x2="169.30" y2="197.00" stroke="#444" stroke-width="1.0" />
<path d="M180.00,264.70 C180.50,262.70 180.70,256.30 180.80,250.70 M181.40,250.70 C181.60,259.10 182.20,263.50 184.60,264.20" fill="none" stroke="#6a6a6a" stroke-width="0.85"/>
<line x1="181.10" y1="251.20" x2="181.10" y2="235.80" stroke="#7a7a7a" stroke-width="2.4" />
<line x1="181.05" y1="236.30" x2="181.05" y2="203.50" stroke="#111" stroke-width="1.6" />
<line x1="181.05" y1="203.80" x2="181.05" y2="197.50" stroke="#444" stroke-width="1.0" />
<path d="M192.00,264.70 C192.50,262.70 192.70,256.30 192.80,250.70 M193.40,250.70 C193.60,259.10 194.20,263.50 196.60,264.20" fill="none" stroke="#6a6a6a" stroke-width="0.85"/>
<line x1="193.10" y1="251.20" x2="193.10" y2="235.45" stroke="#7a7a7a" stroke-width="2.4" />
<line x1="193.05" y1="235.95" x2="193.05" y2="202.25" stroke="#111" stroke-width="1.6" />
<line x1="193.05" y1="202.55" x2="193.05" y2="196.25" stroke="#444" stroke-width="1.0" />
<path d="M203.50,264.70 C204.00,262.70 204.20,259.79 204.30,256.52 M204.90,256.52 C205.10,261.43 205.70,263.50 208.10,264.20" fill="none" stroke="#6a6a6a" stroke-width="0.85"/>
<line x1="204.60" y1="257.02" x2="204.60" y2="248.39" stroke="#7a7a7a" stroke-width="2.4" />
<line x1="204.55" y1="248.89" x2="204.55" y2="231.96" stroke="#111" stroke-width="1.6" />
<line x1="204.55" y1="232.26" x2="204.55" y2="227.50" stroke="#444" stroke-width="1.0" />
<path d="M12.00,266.30 L12.00,188.75 L252.00,188.75" fill="none" stroke="#383838" stroke-width="1.4"/>
<line x1="252.00" y1="188.15" x2="252.00" y2="266.30" stroke="#5a5a5a" stroke-width="1.3" />
<rect x="63.00" y="160.50" width="39.50" height="25.00" fill="#fff" stroke="#3a3a3a" stroke-width="1.3" />
<text id="m_cfu_b0a" x="71.00" y="172.89" font-size="8.2" font-weight="normal" fill="#111" text-anchor="start" font-family='"Liberation Serif", serif' stroke="#111" stroke-width="0.05">T:2.7%</text>
<text id="m_cfu_b0b" x="70.05" y="180.20" font-size="8.2" font-weight="normal" fill="#111" text-anchor="start" font-family='"Liberation Serif", serif' stroke="#111" stroke-width="0.05">C:97.3%</text>
<rect x="110.50" y="160.50" width="38.75" height="25.00" fill="#fff" stroke="#3a3a3a" stroke-width="1.3" />
<text id="m_cfu_b1a" x="119.50" y="172.89" font-size="8.2" font-weight="normal" fill="#111" text-anchor="start" font-family='"Liberation Serif", serif' stroke="#111" stroke-width="0.05">T:9.5%</text>
<text id="m_cfu_b1b" x="118.50" y="180.20" font-size="8.2" font-weight="normal" fill="#111" text-anchor="start" font-family='"Liberation Serif", serif' stroke="#111" stroke-width="0.05">C:90.5%</text>
<text id="m_cfu_t" x="10.54" y="182.58" font-size="10.6" font-weight="normal" fill="#2a2a2a" text-anchor="start" font-family='"Liberation Sans", sans-serif' textLength="38.20" lengthAdjust="spacingAndGlyphs" >CFU-GM</text>
<text x="36.50" y="273.70" font-size="4.6" font-weight="normal" fill="#a8a8a8" text-anchor="middle" font-family='"Liberation Sans", sans-serif' >E</text>
<text x="48.45" y="273.70" font-size="4.6" font-weight="normal" fill="#a8a8a8" text-anchor="middle" font-family='"Liberation Sans", sans-serif' >S</text>
<text x="60.40" y="273.70" font-size="4.6" font-weight="normal" fill="#a8a8a8" text-anchor="middle" font-family='"Liberation Sans", sans-serif' >A</text>
<rect x="59.80" y="265.30" width="1.20" height="1.60" fill="#333" stroke="none" stroke-width="1" />
<text x="72.35" y="273.70" font-size="4.6" font-weight="normal" fill="#a8a8a8" text-anchor="middle" font-family='"Liberation Sans", sans-serif' >T</text>
<rect x="71.75" y="265.30" width="1.20" height="1.60" fill="#333" stroke="none" stroke-width="1" />
<text x="84.30" y="273.70" font-size="4.6" font-weight="normal" fill="#a8a8a8" text-anchor="middle" font-family='"Liberation Sans", sans-serif' >C</text>
<rect x="83.70" y="265.30" width="1.20" height="1.60" fill="#333" stroke="none" stroke-width="1" />
<text x="96.25" y="273.70" font-size="4.6" font-weight="normal" fill="#a8a8a8" text-anchor="middle" font-family='"Liberation Sans", sans-serif' >A</text>
<rect x="95.65" y="265.30" width="1.20" height="1.60" fill="#333" stroke="none" stroke-width="1" />
<text x="108.20" y="273.70" font-size="4.6" font-weight="normal" fill="#a8a8a8" text-anchor="middle" font-family='"Liberation Sans", sans-serif' >G</text>
<rect x="107.60" y="265.30" width="1.20" height="1.60" fill="#333" stroke="none" stroke-width="1" />
<text x="120.15" y="273.70" font-size="4.6" font-weight="normal" fill="#a8a8a8" text-anchor="middle" font-family='"Liberation Sans", sans-serif' >C</text>
<rect x="119.55" y="265.30" width="1.20" height="1.60" fill="#333" stroke="none" stroke-width="1" />
<text x="132.10" y="273.70" font-size="4.6" font-weight="normal" fill="#a8a8a8" text-anchor="middle" font-family='"Liberation Sans", sans-serif' >T</text>
<rect x="131.50" y="265.30" width="1.20" height="1.60" fill="#333" stroke="none" stroke-width="1" />
<text x="144.05" y="273.70" font-size="4.6" font-weight="normal" fill="#a8a8a8" text-anchor="middle" font-family='"Liberation Sans", sans-serif' >C</text>
<rect x="143.45" y="265.30" width="1.20" height="1.60" fill="#333" stroke="none" stroke-width="1" />
<text x="156.00" y="273.70" font-size="4.6" font-weight="normal" fill="#a8a8a8" text-anchor="middle" font-family='"Liberation Sans", sans-serif' >G</text>
<rect x="155.40" y="265.30" width="1.20" height="1.60" fill="#333" stroke="none" stroke-width="1" />
<text x="167.95" y="273.70" font-size="4.6" font-weight="normal" fill="#a8a8a8" text-anchor="middle" font-family='"Liberation Sans", sans-serif' >T</text>
<rect x="167.35" y="265.30" width="1.20" height="1.60" fill="#333" stroke="none" stroke-width="1" />
<text x="179.90" y="273.70" font-size="4.6" font-weight="normal" fill="#a8a8a8" text-anchor="middle" font-family='"Liberation Sans", sans-serif' >G</text>
<rect x="179.30" y="265.30" width="1.20" height="1.60" fill="#333" stroke="none" stroke-width="1" />
<text x="191.85" y="273.70" font-size="4.6" font-weight="normal" fill="#a8a8a8" text-anchor="middle" font-family='"Liberation Sans", sans-serif' >T</text>
<rect x="191.25" y="265.30" width="1.20" height="1.60" fill="#333" stroke="none" stroke-width="1" />
<text x="203.80" y="273.70" font-size="4.6" font-weight="normal" fill="#a8a8a8" text-anchor="middle" font-family='"Liberation Sans", sans-serif' >A</text>
<rect x="203.20" y="265.30" width="1.20" height="1.60" fill="#333" stroke="none" stroke-width="1" />
<text id="m_cfu_l0" x="69.89" y="284.15" font-size="10.2" font-weight="normal" fill="#1a1a1a" text-anchor="start" font-family='"Liberation Sans", sans-serif' >&#8211; 54</text>
<text id="m_cfu_l1" x="114.83" y="284.15" font-size="10.2" font-weight="normal" fill="#1a1a1a" text-anchor="start" font-family='"Liberation Sans", sans-serif' >&#8211; 51</text>
<text x="10.00" y="200.95" font-size="4.9" font-weight="normal" fill="#8a8a8a" text-anchor="end" font-family='"Liberation Sans", sans-serif' letter-spacing="-0.2">150</text>
<line x1="10.20" y1="199.25" x2="12.00" y2="199.25" stroke="#333" stroke-width="1.2" />
<text x="10.00" y="221.70" font-size="4.9" font-weight="normal" fill="#8a8a8a" text-anchor="end" font-family='"Liberation Sans", sans-serif' letter-spacing="-0.2">140</text>
<line x1="10.20" y1="220.00" x2="12.00" y2="220.00" stroke="#333" stroke-width="1.2" />
<text x="10.00" y="241.70" font-size="4.9" font-weight="normal" fill="#8a8a8a" text-anchor="end" font-family='"Liberation Sans", sans-serif' letter-spacing="-0.2">130</text>
<line x1="10.20" y1="240.00" x2="12.00" y2="240.00" stroke="#333" stroke-width="1.2" />
<text x="10.00" y="261.70" font-size="4.9" font-weight="normal" fill="#8a8a8a" text-anchor="end" font-family='"Liberation Sans", sans-serif' letter-spacing="-0.2">120</text>
<line x1="10.20" y1="260.00" x2="12.00" y2="260.00" stroke="#333" stroke-width="1.2" />
<line x1="10.80" y1="209.62" x2="12.00" y2="209.62" stroke="#555" stroke-width="1.0" />
<line x1="10.80" y1="230.00" x2="12.00" y2="230.00" stroke="#555" stroke-width="1.0" />
<line x1="10.80" y1="250.00" x2="12.00" y2="250.00" stroke="#555" stroke-width="1.0" />
<line x1="252.00" y1="199.25" x2="253.30" y2="199.25" stroke="#444" stroke-width="1.1" />
<line x1="252.00" y1="220.00" x2="253.30" y2="220.00" stroke="#444" stroke-width="1.1" />
<line x1="252.00" y1="240.00" x2="253.30" y2="240.00" stroke="#444" stroke-width="1.1" />
<rect x="277.65" y="199.45" width="2.20" height="1.10" fill="#3a3a3a" stroke="none" stroke-width="1" />
<rect x="290.95" y="199.45" width="2.20" height="1.10" fill="#3a3a3a" stroke="none" stroke-width="1" />
<rect x="304.25" y="199.45" width="2.20" height="1.10" fill="#3a3a3a" stroke="none" stroke-width="1" />
<rect x="317.55" y="199.45" width="2.20" height="1.10" fill="#3a3a3a" stroke="none" stroke-width="1" />
<rect x="330.85" y="199.45" width="2.20" height="1.10" fill="#3a3a3a" stroke="none" stroke-width="1" />
<rect x="344.15" y="199.45" width="2.20" height="1.10" fill="#3a3a3a" stroke="none" stroke-width="1" />
<rect x="357.45" y="199.45" width="2.20" height="1.10" fill="#3a3a3a" stroke="none" stroke-width="1" />
<rect x="370.75" y="199.45" width="2.20" height="1.10" fill="#3a3a3a" stroke="none" stroke-width="1" />
<rect x="384.05" y="199.45" width="2.20" height="1.10" fill="#3a3a3a" stroke="none" stroke-width="1" />
<rect x="397.35" y="199.45" width="2.20" height="1.10" fill="#3a3a3a" stroke="none" stroke-width="1" />
<rect x="410.65" y="199.45" width="2.20" height="1.10" fill="#3a3a3a" stroke="none" stroke-width="1" />
<rect x="423.95" y="199.45" width="2.20" height="1.10" fill="#3a3a3a" stroke="none" stroke-width="1" />
<rect x="437.25" y="199.45" width="2.20" height="1.10" fill="#3a3a3a" stroke="none" stroke-width="1" />
<rect x="450.55" y="199.45" width="2.20" height="1.10" fill="#3a3a3a" stroke="none" stroke-width="1" />
<rect x="463.85" y="199.45" width="2.20" height="1.10" fill="#3a3a3a" stroke="none" stroke-width="1" />
<rect x="477.15" y="199.45" width="2.20" height="1.10" fill="#3a3a3a" stroke="none" stroke-width="1" />
<rect x="490.45" y="199.45" width="2.20" height="1.10" fill="#3a3a3a" stroke="none" stroke-width="1" />
<rect x="277.65" y="215.70" width="2.20" height="1.10" fill="#3a3a3a" stroke="none" stroke-width="1" />
<rect x="290.95" y="215.70" width="2.20" height="1.10" fill="#3a3a3a" stroke="none" stroke-width="1" />
<rect x="304.25" y="215.70" width="2.20" height="1.10" fill="#3a3a3a" stroke="none" stroke-width="1" />
<rect x="317.55" y="215.70" width="2.20" height="1.10" fill="#3a3a3a" stroke="none" stroke-width="1" />
<rect x="330.85" y="215.70" width="2.20" height="1.10" fill="#3a3a3a" stroke="none" stroke-width="1" />
<rect x="344.15" y="215.70" width="2.20" height="1.10" fill="#3a3a3a" stroke="none" stroke-width="1" />
<rect x="357.45" y="215.70" width="2.20" height="1.10" fill="#3a3a3a" stroke="none" stroke-width="1" />
<rect x="370.75" y="215.70" width="2.20" height="1.10" fill="#3a3a3a" stroke="none" stroke-width="1" />
<rect x="384.05" y="215.70" width="2.20" height="1.10" fill="#3a3a3a" stroke="none" stroke-width="1" />
<rect x="397.35" y="215.70" width="2.20" height="1.10" fill="#3a3a3a" stroke="none" stroke-width="1" />
<rect x="410.65" y="215.70" width="2.20" height="1.10" fill="#3a3a3a" stroke="none" stroke-width="1" />
<rect x="423.95" y="215.70" width="2.20" height="1.10" fill="#3a3a3a" stroke="none" stroke-width="1" />
<rect x="437.25" y="215.70" width="2.20" height="1.10" fill="#3a3a3a" stroke="none" stroke-width="1" />
<rect x="450.55" y="215.70" width="2.20" height="1.10" fill="#3a3a3a" stroke="none" stroke-width="1" />
<rect x="463.85" y="215.70" width="2.20" height="1.10" fill="#3a3a3a" stroke="none" stroke-width="1" />
<rect x="477.15" y="215.70" width="2.20" height="1.10" fill="#3a3a3a" stroke="none" stroke-width="1" />
<rect x="490.45" y="215.70" width="2.20" height="1.10" fill="#3a3a3a" stroke="none" stroke-width="1" />
<rect x="277.65" y="231.95" width="2.20" height="1.10" fill="#3a3a3a" stroke="none" stroke-width="1" />
<rect x="290.95" y="231.95" width="2.20" height="1.10" fill="#3a3a3a" stroke="none" stroke-width="1" />
<rect x="304.25" y="231.95" width="2.20" height="1.10" fill="#3a3a3a" stroke="none" stroke-width="1" />
<rect x="317.55" y="231.95" width="2.20" height="1.10" fill="#3a3a3a" stroke="none" stroke-width="1" />
<rect x="330.85" y="231.95" width="2.20" height="1.10" fill="#3a3a3a" stroke="none" stroke-width="1" />
<rect x="344.15" y="231.95" width="2.20" height="1.10" fill="#3a3a3a" stroke="none" stroke-width="1" />
<rect x="357.45" y="231.95" width="2.20" height="1.10" fill="#3a3a3a" stroke="none" stroke-width="1" />
<rect x="370.75" y="231.95" width="2.20" height="1.10" fill="#3a3a3a" stroke="none" stroke-width="1" />
<rect x="384.05" y="231.95" width="2.20" height="1.10" fill="#3a3a3a" stroke="none" stroke-width="1" />
<rect x="397.35" y="231.95" width="2.20" height="1.10" fill="#3a3a3a" stroke="none" stroke-width="1" />
<rect x="410.65" y="231.95" width="2.20" height="1.10" fill="#3a3a3a" stroke="none" stroke-width="1" />
<rect x="423.95" y="231.95" width="2.20" height="1.10" fill="#3a3a3a" stroke="none" stroke-width="1" />
<rect x="437.25" y="231.95" width="2.20" height="1.10" fill="#3a3a3a" stroke="none" stroke-width="1" />
<rect x="450.55" y="231.95" width="2.20" height="1.10" fill="#3a3a3a" stroke="none" stroke-width="1" />
<rect x="463.85" y="231.95" width="2.20" height="1.10" fill="#3a3a3a" stroke="none" stroke-width="1" />
<rect x="477.15" y="231.95" width="2.20" height="1.10" fill="#3a3a3a" stroke="none" stroke-width="1" />
<rect x="490.45" y="231.95" width="2.20" height="1.10" fill="#3a3a3a" stroke="none" stroke-width="1" />
<rect x="277.65" y="248.20" width="2.20" height="1.10" fill="#3a3a3a" stroke="none" stroke-width="1" />
<rect x="290.95" y="248.20" width="2.20" height="1.10" fill="#3a3a3a" stroke="none" stroke-width="1" />
<rect x="304.25" y="248.20" width="2.20" height="1.10" fill="#3a3a3a" stroke="none" stroke-width="1" />
<rect x="317.55" y="248.20" width="2.20" height="1.10" fill="#3a3a3a" stroke="none" stroke-width="1" />
<rect x="330.85" y="248.20" width="2.20" height="1.10" fill="#3a3a3a" stroke="none" stroke-width="1" />
<rect x="344.15" y="248.20" width="2.20" height="1.10" fill="#3a3a3a" stroke="none" stroke-width="1" />
<rect x="357.45" y="248.20" width="2.20" height="1.10" fill="#3a3a3a" stroke="none" stroke-width="1" />
<rect x="370.75" y="248.20" width="2.20" height="1.10" fill="#3a3a3a" stroke="none" stroke-width="1" />
<rect x="384.05" y="248.20" width="2.20" height="1.10" fill="#3a3a3a" stroke="none" stroke-width="1" />
<rect x="397.35" y="248.20" width="2.20" height="1.10" fill="#3a3a3a" stroke="none" stroke-width="1" />
<rect x="410.65" y="248.20" width="2.20" height="1.10" fill="#3a3a3a" stroke="none" stroke-width="1" />
<rect x="423.95" y="248.20" width="2.20" height="1.10" fill="#3a3a3a" stroke="none" stroke-width="1" />
<rect x="437.25" y="248.20" width="2.20" height="1.10" fill="#3a3a3a" stroke="none" stroke-width="1" />
<rect x="450.55" y="248.20" width="2.20" height="1.10" fill="#3a3a3a" stroke="none" stroke-width="1" />
<rect x="463.85" y="248.20" width="2.20" height="1.10" fill="#3a3a3a" stroke="none" stroke-width="1" />
<rect x="477.15" y="248.20" width="2.20" height="1.10" fill="#3a3a3a" stroke="none" stroke-width="1" />
<rect x="490.45" y="248.20" width="2.20" height="1.10" fill="#3a3a3a" stroke="none" stroke-width="1" />
<rect x="315.00" y="188.70" width="23.75" height="75.50" fill="url(#shade)" stroke="none" stroke-width="1" />
<rect x="360.00" y="188.70" width="28.75" height="75.50" fill="url(#shade)" stroke="none" stroke-width="1" />
<line x1="359.25" y1="188.00" x2="359.25" y2="265.00" stroke="#555" stroke-width="1.2" />
<line x1="264.50" y1="266.00" x2="295.60" y2="266.00" stroke="#111" stroke-width="1.3" />
<line x1="295.60" y1="265.40" x2="504.50" y2="265.40" stroke="#7a7a7a" stroke-width="2.6" />
<path d="M320.75,265.00 C321.25,263.00 321.45,256.60 321.55,251.00 M322.15,251.00 C322.35,259.40 322.95,263.80 325.35,264.50" fill="none" stroke="#6a6a6a" stroke-width="0.85"/>
<line x1="321.85" y1="251.50" x2="321.85" y2="236.02" stroke="#7a7a7a" stroke-width="2.4" />
<line x1="321.80" y1="236.52" x2="321.80" y2="203.50" stroke="#111" stroke-width="1.6" />
<line x1="321.80" y1="203.80" x2="321.80" y2="197.50" stroke="#444" stroke-width="1.0" />
<path d="M332.65,265.20 C333.45,264.00 333.65,256.25 334.25,256.25 C334.85,256.25 335.05,263.50 337.45,264.70" fill="none" stroke="#333" stroke-width="1.0"/>
<path d="M358.25,265.00 C358.75,263.00 358.95,257.74 359.05,252.90 M359.65,252.90 C359.85,260.16 360.45,263.80 362.85,264.50" fill="none" stroke="#6a6a6a" stroke-width="0.85"/>
<line x1="359.35" y1="253.40" x2="359.35" y2="240.89" stroke="#7a7a7a" stroke-width="2.4" />
<line x1="359.30" y1="241.39" x2="359.30" y2="216.00" stroke="#111" stroke-width="1.6" />
<line x1="359.30" y1="216.30" x2="359.30" y2="210.00" stroke="#444" stroke-width="1.0" />
<path d="M370.15,265.20 C370.95,264.00 371.15,257.00 371.75,257.00 C372.35,257.00 372.55,263.50 374.95,264.70" fill="none" stroke="#333" stroke-width="1.0"/>
<path d="M383.25,265.00 C383.75,263.00 383.95,260.88 384.05,258.12 M384.65,258.12 C384.85,262.25 385.45,263.80 387.85,264.50" fill="none" stroke="#6a6a6a" stroke-width="0.85"/>
<line x1="384.35" y1="258.62" x2="384.35" y2="251.30" stroke="#7a7a7a" stroke-width="2.4" />
<line x1="384.30" y1="251.80" x2="384.30" y2="237.50" stroke="#111" stroke-width="1.6" />
<line x1="384.30" y1="237.80" x2="384.30" y2="233.75" stroke="#444" stroke-width="1.0" />
<path d="M407.75,265.00 C408.25,263.00 408.45,256.60 408.55,251.00 M409.15,251.00 C409.35,259.40 409.95,263.80 412.35,264.50" fill="none" stroke="#6a6a6a" stroke-width="0.85"/>
<line x1="408.85" y1="251.50" x2="408.85" y2="234.76" stroke="#7a7a7a" stroke-width="2.4" />
<line x1="408.80" y1="235.26" x2="408.80" y2="199.00" stroke="#111" stroke-width="1.6" />
<line x1="408.80" y1="199.30" x2="408.80" y2="193.00" stroke="#444" stroke-width="1.0" />
<path d="M420.25,265.00 C420.75,263.00 420.95,256.60 421.05,251.00 M421.65,251.00 C421.85,259.40 422.45,263.80 424.85,264.50" fill="none" stroke="#6a6a6a" stroke-width="0.85"/>
<line x1="421.35" y1="251.50" x2="421.35" y2="236.37" stroke="#7a7a7a" stroke-width="2.4" />
<line x1="421.30" y1="236.87" x2="421.30" y2="204.75" stroke="#111" stroke-width="1.6" />
<line x1="421.30" y1="205.05" x2="421.30" y2="198.75" stroke="#444" stroke-width="1.0" />
<path d="M432.25,265.00 C432.75,263.00 432.95,256.60 433.05,251.00 M433.65,251.00 C433.85,259.40 434.45,263.80 436.85,264.50" fill="none" stroke="#6a6a6a" stroke-width="0.85"/>
<line x1="433.35" y1="251.50" x2="433.35" y2="236.58" stroke="#7a7a7a" stroke-width="2.4" />
<line x1="433.30" y1="237.08" x2="433.30" y2="205.50" stroke="#111" stroke-width="1.6" />
<line x1="433.30" y1="205.80" x2="433.30" y2="199.50" stroke="#444" stroke-width="1.0" />
<path d="M444.75,265.00 C445.25,263.00 445.45,256.60 445.55,251.00 M446.15,251.00 C446.35,259.40 446.95,263.80 449.35,264.50" fill="none" stroke="#6a6a6a" stroke-width="0.85"/>
<line x1="445.85" y1="251.50" x2="445.85" y2="236.16" stroke="#7a7a7a" stroke-width="2.4" />
<line x1="445.80" y1="236.66" x2="445.80" y2="204.00" stroke="#111" stroke-width="1.6" />
<line x1="445.80" y1="204.30" x2="445.80" y2="198.00" stroke="#444" stroke-width="1.0" />
<path d="M457.25,265.00 C457.75,263.00 457.95,259.88 458.05,256.48 M458.65,256.48 C458.85,261.59 459.45,263.80 461.85,264.50" fill="none" stroke="#6a6a6a" stroke-width="0.85"/>
<line x1="458.35" y1="256.98" x2="458.35" y2="248.01" stroke="#7a7a7a" stroke-width="2.4" />
<line x1="458.30" y1="248.51" x2="458.30" y2="230.90" stroke="#111" stroke-width="1.6" />
<line x1="458.30" y1="231.20" x2="458.30" y2="226.25" stroke="#444" stroke-width="1.0" />
<path d="M264.50,266.60 L264.50,188.00 L505.00,188.00" fill="none" stroke="#383838" stroke-width="1.4"/>
<line x1="505.00" y1="187.40" x2="505.00" y2="266.60" stroke="#5a5a5a" stroke-width="1.3" />
<rect x="309.50" y="160.50" width="39.25" height="25.00" fill="#fff" stroke="#3a3a3a" stroke-width="1.3" />
<text id="m_hela_b0a" x="317.64" y="172.20" font-size="8.2" font-weight="normal" fill="#111" text-anchor="start" font-family='"Liberation Serif", serif' stroke="#111" stroke-width="0.05">T:79.2%</text>
<text id="m_hela_b0b" x="317.04" y="180.20" font-size="8.2" font-weight="normal" fill="#111" text-anchor="start" font-family='"Liberation Serif", serif' stroke="#111" stroke-width="0.05">C:20.8%</text>
<rect x="362.00" y="160.50" width="39.25" height="25.00" fill="#fff" stroke="#3a3a3a" stroke-width="1.3" />
<text id="m_hela_b1a" x="370.39" y="172.20" font-size="8.2" font-weight="normal" fill="#111" text-anchor="start" font-family='"Liberation Serif", serif' stroke="#111" stroke-width="0.05">T:80.2%</text>
<text id="m_hela_b1b" x="369.20" y="180.20" font-size="8.2" font-weight="normal" fill="#111" text-anchor="start" font-family='"Liberation Serif", serif' stroke="#111" stroke-width="0.05">C:19.8%</text>
<text id="m_hela_t" x="264.19" y="182.58" font-size="10.6" font-weight="normal" fill="#2a2a2a" text-anchor="start" font-family='"Liberation Sans", sans-serif' textLength="21.80" lengthAdjust="spacingAndGlyphs" >HeLa</text>
<text x="283.50" y="274.00" font-size="4.6" font-weight="normal" fill="#a8a8a8" text-anchor="middle" font-family='"Liberation Sans", sans-serif' >E</text>
<text x="295.90" y="274.00" font-size="4.6" font-weight="normal" fill="#a8a8a8" text-anchor="middle" font-family='"Liberation Sans", sans-serif' >S</text>
<text x="308.30" y="274.00" font-size="4.6" font-weight="normal" fill="#a8a8a8" text-anchor="middle" font-family='"Liberation Sans", sans-serif' >A</text>
<rect x="307.70" y="265.60" width="1.20" height="1.60" fill="#333" stroke="none" stroke-width="1" />
<text x="320.70" y="274.00" font-size="4.6" font-weight="normal" fill="#a8a8a8" text-anchor="middle" font-family='"Liberation Sans", sans-serif' >T</text>
<rect x="320.10" y="265.60" width="1.20" height="1.60" fill="#333" stroke="none" stroke-width="1" />
<text x="333.10" y="274.00" font-size="4.6" font-weight="normal" fill="#a8a8a8" text-anchor="middle" font-family='"Liberation Sans", sans-serif' >C</text>
<rect x="332.50" y="265.60" width="1.20" height="1.60" fill="#333" stroke="none" stroke-width="1" />
<text x="345.50" y="274.00" font-size="4.6" font-weight="normal" fill="#a8a8a8" text-anchor="middle" font-family='"Liberation Sans", sans-serif' >A</text>
<rect x="344.90" y="265.60" width="1.20" height="1.60" fill="#333" stroke="none" stroke-width="1" />
<text x="357.90" y="274.00" font-size="4.6" font-weight="normal" fill="#a8a8a8" text-anchor="middle" font-family='"Liberation Sans", sans-serif' >G</text>
<rect x="357.30" y="265.60" width="1.20" height="1.60" fill="#333" stroke="none" stroke-width="1" />
<text x="370.30" y="274.00" font-size="4.6" font-weight="normal" fill="#a8a8a8" text-anchor="middle" font-family='"Liberation Sans", sans-serif' >C</text>
<rect x="369.70" y="265.60" width="1.20" height="1.60" fill="#333" stroke="none" stroke-width="1" />
<text x="382.70" y="274.00" font-size="4.6" font-weight="normal" fill="#a8a8a8" text-anchor="middle" font-family='"Liberation Sans", sans-serif' >T</text>
<rect x="382.10" y="265.60" width="1.20" height="1.60" fill="#333" stroke="none" stroke-width="1" />
<text x="395.10" y="274.00" font-size="4.6" font-weight="normal" fill="#a8a8a8" text-anchor="middle" font-family='"Liberation Sans", sans-serif' >C</text>
<rect x="394.50" y="265.60" width="1.20" height="1.60" fill="#333" stroke="none" stroke-width="1" />
<text x="407.50" y="274.00" font-size="4.6" font-weight="normal" fill="#a8a8a8" text-anchor="middle" font-family='"Liberation Sans", sans-serif' >G</text>
<rect x="406.90" y="265.60" width="1.20" height="1.60" fill="#333" stroke="none" stroke-width="1" />
<text x="419.90" y="274.00" font-size="4.6" font-weight="normal" fill="#a8a8a8" text-anchor="middle" font-family='"Liberation Sans", sans-serif' >T</text>
<rect x="419.30" y="265.60" width="1.20" height="1.60" fill="#333" stroke="none" stroke-width="1" />
<text x="432.30" y="274.00" font-size="4.6" font-weight="normal" fill="#a8a8a8" text-anchor="middle" font-family='"Liberation Sans", sans-serif' >G</text>
<rect x="431.70" y="265.60" width="1.20" height="1.60" fill="#333" stroke="none" stroke-width="1" />
<text x="444.70" y="274.00" font-size="4.6" font-weight="normal" fill="#a8a8a8" text-anchor="middle" font-family='"Liberation Sans", sans-serif' >T</text>
<rect x="444.10" y="265.60" width="1.20" height="1.60" fill="#333" stroke="none" stroke-width="1" />
<text x="457.10" y="274.00" font-size="4.6" font-weight="normal" fill="#a8a8a8" text-anchor="middle" font-family='"Liberation Sans", sans-serif' >A</text>
<rect x="456.50" y="265.60" width="1.20" height="1.60" fill="#333" stroke="none" stroke-width="1" />
<text id="m_hela_l0" x="319.02" y="284.65" font-size="10.2" font-weight="normal" fill="#1a1a1a" text-anchor="start" font-family='"Liberation Sans", sans-serif' >&#8211; 54</text>
<text id="m_hela_l1" x="367.04" y="284.65" font-size="10.2" font-weight="normal" fill="#1a1a1a" text-anchor="start" font-family='"Liberation Sans", sans-serif' >&#8211; 51</text>
<text x="262.50" y="201.70" font-size="4.9" font-weight="normal" fill="#8a8a8a" text-anchor="end" font-family='"Liberation Sans", sans-serif' letter-spacing="-0.2">200</text>
<line x1="262.70" y1="200.00" x2="264.50" y2="200.00" stroke="#333" stroke-width="1.2" />
<text x="262.50" y="217.95" font-size="4.9" font-weight="normal" fill="#8a8a8a" text-anchor="end" font-family='"Liberation Sans", sans-serif' letter-spacing="-0.2">180</text>
<line x1="262.70" y1="216.25" x2="264.50" y2="216.25" stroke="#333" stroke-width="1.2" />
<text x="262.50" y="234.20" font-size="4.9" font-weight="normal" fill="#8a8a8a" text-anchor="end" font-family='"Liberation Sans", sans-serif' letter-spacing="-0.2">160</text>
<line x1="262.70" y1="232.50" x2="264.50" y2="232.50" stroke="#333" stroke-width="1.2" />
<text x="262.50" y="250.45" font-size="4.9" font-weight="normal" fill="#8a8a8a" text-anchor="end" font-family='"Liberation Sans", sans-serif' letter-spacing="-0.2">140</text>
<line x1="262.70" y1="248.75" x2="264.50" y2="248.75" stroke="#333" stroke-width="1.2" />
<text x="262.50" y="266.70" font-size="4.9" font-weight="normal" fill="#8a8a8a" text-anchor="end" font-family='"Liberation Sans", sans-serif' letter-spacing="-0.2">120</text>
<line x1="262.70" y1="265.00" x2="264.50" y2="265.00" stroke="#333" stroke-width="1.2" />
<line x1="263.30" y1="208.12" x2="264.50" y2="208.12" stroke="#555" stroke-width="1.0" />
<line x1="263.30" y1="224.38" x2="264.50" y2="224.38" stroke="#555" stroke-width="1.0" />
<line x1="263.30" y1="240.62" x2="264.50" y2="240.62" stroke="#555" stroke-width="1.0" />
<line x1="263.30" y1="256.88" x2="264.50" y2="256.88" stroke="#555" stroke-width="1.0" />
<line x1="263.30" y1="191.88" x2="264.50" y2="191.88" stroke="#555" stroke-width="1.0" />
<text id="m_B" x="1.07" y="315.61" font-size="16.5" font-weight="bold" fill="#111" text-anchor="start" font-family='"Liberation Sans", sans-serif' >B</text>
<text id="m_C" x="297.39" y="315.75" font-size="16.5" font-weight="bold" fill="#111" text-anchor="start" font-family='"Liberation Sans", sans-serif' >C</text>
<line x1="57.00" y1="354.00" x2="57.00" y2="518.00" stroke="#222" stroke-width="1.3" />
<line x1="51.50" y1="518.00" x2="57.00" y2="518.00" stroke="#222" stroke-width="1.2" />
<text id="m_bB_y0" x="45.61" y="522.68" font-size="14" font-weight="bold" fill="#111" text-anchor="end" font-family='"Liberation Sans", sans-serif' >0</text>
<line x1="51.50" y1="485.20" x2="57.00" y2="485.20" stroke="#222" stroke-width="1.2" />
<text id="m_bB_y20" x="45.50" y="490.30" font-size="14" font-weight="bold" fill="#111" text-anchor="end" font-family='"Liberation Sans", sans-serif' >20</text>
<line x1="51.50" y1="452.40" x2="57.00" y2="452.40" stroke="#222" stroke-width="1.2" />
<text id="m_bB_y40" x="45.50" y="456.50" font-size="14" font-weight="bold" fill="#111" text-anchor="end" font-family='"Liberation Sans", sans-serif' >40</text>
<line x1="51.50" y1="419.60" x2="57.00" y2="419.60" stroke="#222" stroke-width="1.2" />
<text id="m_bB_y60" x="45.50" y="424.70" font-size="14" font-weight="bold" fill="#111" text-anchor="end" font-family='"Liberation Sans", sans-serif' >60</text>
<line x1="51.50" y1="386.80" x2="57.00" y2="386.80" stroke="#222" stroke-width="1.2" />
<text id="m_bB_y80" x="45.50" y="392.15" font-size="14" font-weight="bold" fill="#111" text-anchor="end" font-family='"Liberation Sans", sans-serif' >80</text>
<line x1="51.50" y1="354.00" x2="57.00" y2="354.00" stroke="#222" stroke-width="1.2" />
<text id="m_bB_y100" x="45.08" y="359.21" font-size="14" font-weight="bold" fill="#111" text-anchor="end" font-family='"Liberation Sans", sans-serif' >100</text>
<text id="m_bB_yt" transform="translate(14.35,477.20) rotate(-90)" font-size="14.5" font-weight="normal" fill="#111" text-anchor="start" font-family='"Liberation Sans", sans-serif' textLength="84.40" lengthAdjust="spacingAndGlyphs" stroke="#111" stroke-width="0.45">% Methylation</text>
<rect x="60.50" y="376.50" width="5.00" height="141.50" fill="#fff" stroke="#222" stroke-width="1" />
<pattern id="hp1" patternUnits="userSpaceOnUse" x="0" y="362.50" width="10" height="2.97"><rect width="10" height="2.97" fill="#fff"/><rect y="0.35" width="10" height="1.05" fill="#2a2a2a"/></pattern>
<rect x="65.50" y="362.50" width="5.20" height="155.50" fill="url(#hp1)" stroke="#222" stroke-width="1.1" />
<rect x="77.50" y="378.50" width="5.00" height="139.50" fill="#fff" stroke="#222" stroke-width="1" />
<pattern id="hp2" patternUnits="userSpaceOnUse" x="0" y="376.40" width="10" height="2.97"><rect width="10" height="2.97" fill="#fff"/><rect y="0.35" width="10" height="1.05" fill="#2a2a2a"/></pattern>
<rect x="82.50" y="376.40" width="5.70" height="141.60" fill="url(#hp2)" stroke="#222" stroke-width="1.1" />
<rect x="95.00" y="354.00" width="5.00" height="164.00" fill="#fff" stroke="#222" stroke-width="1" />
<pattern id="hp3" patternUnits="userSpaceOnUse" x="0" y="354.00" width="10" height="2.97"><rect width="10" height="2.97" fill="#fff"/><rect y="0.35" width="10" height="1.05" fill="#2a2a2a"/></pattern>
<rect x="100.00" y="354.00" width="5.30" height="164.00" fill="url(#hp3)" stroke="#222" stroke-width="1.1" />
<rect x="112.50" y="372.20" width="5.10" height="145.80" fill="#fff" stroke="#222" stroke-width="1" />
<pattern id="hp4" patternUnits="userSpaceOnUse" x="0" y="367.30" width="10" height="2.97"><rect width="10" height="2.97" fill="#fff"/><rect y="0.35" width="10" height="1.05" fill="#2a2a2a"/></pattern>
<rect x="117.60" y="367.30" width="5.10" height="150.70" fill="url(#hp4)" stroke="#222" stroke-width="1.1" />
<rect x="129.50" y="374.00" width="5.00" height="144.00" fill="#fff" stroke="#222" stroke-width="1" />
<pattern id="hp5" patternUnits="userSpaceOnUse" x="0" y="362.30" width="10" height="2.97"><rect width="10" height="2.97" fill="#fff"/><rect y="0.35" width="10" height="1.05" fill="#2a2a2a"/></pattern>
<rect x="134.50" y="362.30" width="5.10" height="155.70" fill="url(#hp5)" stroke="#222" stroke-width="1.1" />
<rect x="146.40" y="371.50" width="5.30" height="146.50" fill="#fff" stroke="#222" stroke-width="1" />
<pattern id="hp6" patternUnits="userSpaceOnUse" x="0" y="364.80" width="10" height="2.97"><rect width="10" height="2.97" fill="#fff"/><rect y="0.35" width="10" height="1.05" fill="#2a2a2a"/></pattern>
<rect x="151.70" y="364.80" width="4.90" height="153.20" fill="url(#hp6)" stroke="#222" stroke-width="1.1" />
<rect x="180.80" y="420.20" width="5.60" height="97.80" fill="#fff" stroke="#222" stroke-width="1" />
<pattern id="hp7" patternUnits="userSpaceOnUse" x="0" y="408.60" width="10" height="2.97"><rect width="10" height="2.97" fill="#fff"/><rect y="0.35" width="10" height="1.05" fill="#2a2a2a"/></pattern>
<rect x="186.40" y="408.60" width="5.10" height="109.40" fill="url(#hp7)" stroke="#222" stroke-width="1.1" />
<rect x="198.90" y="412.20" width="4.80" height="105.80" fill="#fff" stroke="#222" stroke-width="1" />
<pattern id="hp8" patternUnits="userSpaceOnUse" x="0" y="394.30" width="10" height="2.97"><rect width="10" height="2.97" fill="#fff"/><rect y="0.35" width="10" height="1.05" fill="#2a2a2a"/></pattern>
<rect x="203.70" y="394.30" width="5.10" height="123.70" fill="url(#hp8)" stroke="#222" stroke-width="1.1" />
<rect x="216.20" y="445.40" width="5.10" height="72.60" fill="#fff" stroke="#222" stroke-width="1" />
<pattern id="hp9" patternUnits="userSpaceOnUse" x="0" y="379.80" width="10" height="2.97"><rect width="10" height="2.97" fill="#fff"/><rect y="0.35" width="10" height="1.05" fill="#2a2a2a"/></pattern>
<rect x="221.30" y="379.80" width="5.30" height="138.20" fill="url(#hp9)" stroke="#222" stroke-width="1.1" />
<rect x="233.50" y="426.00" width="5.10" height="92.00" fill="#fff" stroke="#222" stroke-width="1" />
<pattern id="hp10" patternUnits="userSpaceOnUse" x="0" y="394.00" width="10" height="2.97"><rect width="10" height="2.97" fill="#fff"/><rect y="0.35" width="10" height="1.05" fill="#2a2a2a"/></pattern>
<rect x="238.60" y="394.00" width="5.30" height="124.00" fill="url(#hp10)" stroke="#222" stroke-width="1.1" />
<line x1="148.70" y1="361.10" x2="148.70" y2="381.40" stroke="#222" stroke-width="1" />
<line x1="146.60" y1="361.10" x2="150.80" y2="361.10" stroke="#222" stroke-width="1.1" />
<line x1="146.40" y1="381.40" x2="151.70" y2="381.40" stroke="#111" stroke-width="1.2" />
<line x1="154.00" y1="356.10" x2="154.00" y2="373.20" stroke="#222" stroke-width="1" />
<line x1="151.90" y1="356.10" x2="156.10" y2="356.10" stroke="#222" stroke-width="1.1" />
<line x1="151.70" y1="373.20" x2="156.60" y2="373.20" stroke="#111" stroke-width="1.2" />
<line x1="236.30" y1="407.90" x2="236.30" y2="444.60" stroke="#222" stroke-width="1" />
<line x1="234.20" y1="407.90" x2="238.40" y2="407.90" stroke="#222" stroke-width="1.1" />
<line x1="233.50" y1="444.60" x2="238.60" y2="444.60" stroke="#111" stroke-width="1.2" />
<line x1="241.10" y1="380.60" x2="241.10" y2="408.60" stroke="#222" stroke-width="1" />
<line x1="239.00" y1="380.60" x2="243.20" y2="380.60" stroke="#222" stroke-width="1.1" />
<line x1="238.60" y1="408.60" x2="243.90" y2="408.60" stroke="#111" stroke-width="1.2" />
<line x1="57.00" y1="518.00" x2="255.60" y2="518.00" stroke="#222" stroke-width="1.2" />
<line x1="57.00" y1="518.00" x2="72.00" y2="557.30" stroke="#222" stroke-width="1" />
<line x1="174.60" y1="518.00" x2="188.50" y2="556.80" stroke="#222" stroke-width="1" />
<line x1="255.60" y1="518.00" x2="269.75" y2="557.50" stroke="#222" stroke-width="1" />
<text id="m_bB_x0" transform="translate(62.40,527.12) rotate(38)" font-size="9.7" font-weight="bold" fill="#111" text-anchor="start" font-family='"Liberation Sans", sans-serif' >-54</text>
<text id="m_bB_x1" transform="translate(82.15,528.10) rotate(38)" font-size="9.7" font-weight="bold" fill="#111" text-anchor="start" font-family='"Liberation Sans", sans-serif' >-51</text>
<text id="m_bB_x2" transform="translate(98.91,528.35) rotate(38)" font-size="9.7" font-weight="bold" fill="#111" text-anchor="start" font-family='"Liberation Sans", sans-serif' >+5</text>
<text id="m_bB_x3" transform="translate(115.64,526.80) rotate(38)" font-size="9.7" font-weight="bold" fill="#111" text-anchor="start" font-family='"Liberation Sans", sans-serif' >+16</text>
<text id="m_bB_x4" transform="translate(132.00,527.10) rotate(38)" font-size="9.7" font-weight="bold" fill="#111" text-anchor="start" font-family='"Liberation Sans", sans-serif' >+49</text>
<text id="m_bB_x5" transform="translate(152.90,524.86) rotate(38)" font-size="9.7" font-weight="bold" fill="#111" text-anchor="start" font-family='"Liberation Sans", sans-serif' >Mean</text>
<text id="m_bB_x6" transform="translate(180.28,526.66) rotate(38)" font-size="9.7" font-weight="bold" fill="#111" text-anchor="start" font-family='"Liberation Sans", sans-serif' >-306</text>
<text id="m_bB_x7" transform="translate(202.44,526.66) rotate(38)" font-size="9.7" font-weight="bold" fill="#111" text-anchor="start" font-family='"Liberation Sans", sans-serif' >-265</text>
<text id="m_bB_x8" transform="translate(219.41,526.36) rotate(38)" font-size="9.7" font-weight="bold" fill="#111" text-anchor="start" font-family='"Liberation Sans", sans-serif' >-125</text>
<text id="m_bB_x9" transform="translate(238.95,524.95) rotate(38)" font-size="9.7" font-weight="bold" fill="#111" text-anchor="start" font-family='"Liberation Sans", sans-serif' >Mean</text>
<text id="m_bB_g0" x="105.50" y="553.50" font-size="12.5" font-weight="bold" fill="#111" text-anchor="start" font-family='"Liberation Sans", sans-serif' textLength="43.80" lengthAdjust="spacingAndGlyphs" >&#947;-globin</text>
<text id="m_bB_g1" x="209.25" y="553.50" font-size="12.5" font-weight="bold" fill="#111" text-anchor="start" font-family='"Liberation Sans", sans-serif' textLength="45.80" lengthAdjust="spacingAndGlyphs" >&#946;-globin</text>
<line x1="305.30" y1="354.00" x2="305.30" y2="518.00" stroke="#222" stroke-width="1.3" />
<line x1="299.80" y1="518.00" x2="305.30" y2="518.00" stroke="#222" stroke-width="1.2" />
<text id="m_bC_y0" x="293.55" y="523.07" font-size="14" font-weight="bold" fill="#111" text-anchor="end" font-family='"Liberation Sans", sans-serif' >0</text>
<line x1="299.80" y1="485.20" x2="305.30" y2="485.20" stroke="#222" stroke-width="1.2" />
<text id="m_bC_y20" x="293.62" y="490.41" font-size="14" font-weight="bold" fill="#111" text-anchor="end" font-family='"Liberation Sans", sans-serif' >20</text>
<line x1="299.80" y1="452.40" x2="305.30" y2="452.40" stroke="#222" stroke-width="1.2" />
<text id="m_bC_y40" x="294.15" y="457.61" font-size="14" font-weight="bold" fill="#111" text-anchor="end" font-family='"Liberation Sans", sans-serif' >40</text>
<line x1="299.80" y1="419.60" x2="305.30" y2="419.60" stroke="#222" stroke-width="1.2" />
<text id="m_bC_y60" x="293.80" y="424.70" font-size="14" font-weight="bold" fill="#111" text-anchor="end" font-family='"Liberation Sans", sans-serif' >60</text>
<line x1="299.80" y1="386.80" x2="305.30" y2="386.80" stroke="#222" stroke-width="1.2" />
<text id="m_bC_y80" x="293.62" y="392.77" font-size="14" font-weight="bold" fill="#111" text-anchor="end" font-family='"Liberation Sans", sans-serif' >80</text>
<line x1="299.80" y1="354.00" x2="305.30" y2="354.00" stroke="#222" stroke-width="1.2" />
<text id="m_bC_y100" x="293.84" y="360.10" font-size="14" font-weight="bold" fill="#111" text-anchor="end" font-family='"Liberation Sans", sans-serif' >100</text>
<text id="m_bC_yt" transform="translate(271.59,479.21) rotate(-90)" font-size="14.5" font-weight="normal" fill="#111" text-anchor="start" font-family='"Liberation Sans", sans-serif' textLength="85.10" lengthAdjust="spacingAndGlyphs" stroke="#111" stroke-width="0.45">% Methylation</text>
<rect x="309.20" y="509.90" width="5.00" height="8.10" fill="#000" stroke="#000" stroke-width="1" />
<rect x="314.20" y="483.80" width="5.40" height="34.20" fill="#c4c4c4" stroke="#222" stroke-width="1" />
<rect x="326.90" y="515.20" width="5.00" height="2.80" fill="#000" stroke="#000" stroke-width="1" />
<rect x="331.90" y="486.10" width="4.60" height="31.90" fill="#c4c4c4" stroke="#222" stroke-width="1" />
<rect x="343.75" y="509.50" width="5.00" height="8.50" fill="#000" stroke="#000" stroke-width="1" />
<rect x="348.75" y="504.50" width="5.75" height="13.50" fill="#c4c4c4" stroke="#222" stroke-width="1" />
<rect x="361.25" y="515.50" width="5.00" height="2.50" fill="#000" stroke="#000" stroke-width="1" />
<rect x="366.25" y="508.00" width="5.75" height="10.00" fill="#c4c4c4" stroke="#222" stroke-width="1" />
<rect x="378.50" y="517.00" width="5.00" height="1.00" fill="#000" stroke="#000" stroke-width="1" />
<rect x="383.50" y="497.00" width="5.90" height="21.00" fill="#c4c4c4" stroke="#222" stroke-width="1" />
<rect x="396.20" y="512.50" width="5.30" height="5.50" fill="#000" stroke="#000" stroke-width="1" />
<rect x="401.50" y="495.60" width="4.90" height="22.40" fill="#c4c4c4" stroke="#222" stroke-width="1" />
<rect x="431.00" y="390.20" width="5.50" height="127.80" fill="#000" stroke="#000" stroke-width="1" />
<rect x="436.50" y="515.00" width="5.50" height="3.00" fill="#c4c4c4" stroke="#222" stroke-width="1" />
<rect x="448.70" y="369.20" width="5.30" height="148.80" fill="#000" stroke="#000" stroke-width="1" />
<rect x="454.00" y="509.00" width="5.40" height="9.00" fill="#c4c4c4" stroke="#222" stroke-width="1" />
<rect x="466.50" y="430.80" width="5.50" height="87.20" fill="#000" stroke="#000" stroke-width="1" />
<rect x="472.00" y="517.00" width="5.50" height="1.00" fill="#c4c4c4" stroke="#222" stroke-width="1" />
<rect x="483.50" y="397.00" width="5.50" height="121.00" fill="#000" stroke="#000" stroke-width="1" />
<rect x="489.00" y="512.30" width="5.40" height="5.70" fill="#c4c4c4" stroke="#222" stroke-width="1" />
<line x1="486.20" y1="393.80" x2="486.20" y2="397.00" stroke="#222" stroke-width="1" />
<line x1="484.10" y1="393.80" x2="488.30" y2="393.80" stroke="#222" stroke-width="1.1" />
<line x1="305.30" y1="518.00" x2="503.90" y2="518.00" stroke="#222" stroke-width="1.2" />
<line x1="305.30" y1="518.00" x2="320.50" y2="557.00" stroke="#222" stroke-width="1" />
<line x1="423.60" y1="518.00" x2="437.90" y2="556.20" stroke="#222" stroke-width="1" />
<line x1="503.90" y1="518.00" x2="518.00" y2="556.00" stroke="#222" stroke-width="1" />
<text id="m_bC_x0" transform="translate(309.20,529.00) rotate(38)" font-size="9.7" font-weight="bold" fill="#111" text-anchor="start" font-family='"Liberation Sans", sans-serif' >-54</text>
<text id="m_bC_x1" transform="translate(328.32,527.93) rotate(38)" font-size="9.7" font-weight="bold" fill="#111" text-anchor="start" font-family='"Liberation Sans", sans-serif' >-51</text>
<text id="m_bC_x2" transform="translate(344.75,529.65) rotate(38)" font-size="9.7" font-weight="bold" fill="#111" text-anchor="start" font-family='"Liberation Sans", sans-serif' >+5</text>
<text id="m_bC_x3" transform="translate(362.01,527.59) rotate(38)" font-size="9.7" font-weight="bold" fill="#111" text-anchor="start" font-family='"Liberation Sans", sans-serif' >+16</text>
<text id="m_bC_x4" transform="translate(379.06,527.10) rotate(38)" font-size="9.7" font-weight="bold" fill="#111" text-anchor="start" font-family='"Liberation Sans", sans-serif' >+49</text>
<text id="m_bC_x5" transform="translate(399.81,525.65) rotate(38)" font-size="9.7" font-weight="bold" fill="#111" text-anchor="start" font-family='"Liberation Sans", sans-serif' >Mean</text>
<text id="m_bC_x6" transform="translate(426.76,526.16) rotate(38)" font-size="9.7" font-weight="bold" fill="#111" text-anchor="start" font-family='"Liberation Sans", sans-serif' >-306</text>
<text id="m_bC_x7" transform="translate(449.32,527.25) rotate(38)" font-size="9.7" font-weight="bold" fill="#111" text-anchor="start" font-family='"Liberation Sans", sans-serif' >-265</text>
<text id="m_bC_x8" transform="translate(465.85,526.84) rotate(38)" font-size="9.7" font-weight="bold" fill="#111" text-anchor="start" font-family='"Liberation Sans", sans-serif' >-125</text>
<text id="m_bC_x9" transform="translate(486.75,525.41) rotate(38)" font-size="9.7" font-weight="bold" fill="#111" text-anchor="start" font-family='"Liberation Sans", sans-serif' >Mean</text>
<text id="m_bC_g0" x="351.10" y="555.20" font-size="12.5" font-weight="bold" fill="#111" text-anchor="start" font-family='"Liberation Sans", sans-serif' textLength="43.80" lengthAdjust="spacingAndGlyphs" >&#947;-globin</text>
<text id="m_bC_g1" x="455.05" y="555.20" font-size="12.5" font-weight="bold" fill="#111" text-anchor="start" font-family='"Liberation Sans", sans-serif' textLength="45.80" lengthAdjust="spacingAndGlyphs" >&#946;-globin</text>
<rect x="188.20" y="323.70" width="7.00" height="7.00" fill="#fff" stroke="#333" stroke-width="1" />
<rect x="188.20" y="336.50" width="7.00" height="7.00" fill="url(#hatch2)" stroke="#333" stroke-width="1" />
<text id="m_legB1" x="200.50" y="331.05" font-size="11.2" font-weight="bold" fill="#111" text-anchor="start" font-family='"Liberation Sans", sans-serif' >BFU-E</text>
<text id="m_legB2" x="202.31" y="344.69" font-size="11.2" font-weight="bold" fill="#111" text-anchor="start" font-family='"Liberation Sans", sans-serif' >CFU-GM</text>
<rect x="443.20" y="324.80" width="5.80" height="7.40" fill="#000" stroke="#000" stroke-width="0.6" />
<rect x="443.20" y="338.60" width="5.80" height="7.40" fill="#c4c4c4" stroke="#333" stroke-width="0.8" />
<text id="m_legC1" x="454.86" y="332.30" font-size="11.2" font-weight="normal" fill="#111" text-anchor="start" font-family='"Liberation Sans", sans-serif' stroke="#111" stroke-width="0.3">K562</text>
<text id="m_legC2" x="455.15" y="346.20" font-size="11.2" font-weight="normal" fill="#111" text-anchor="start" font-family='"Liberation Sans", sans-serif' stroke="#111" stroke-width="0.3">HeLa</text>
</svg></body></html>
